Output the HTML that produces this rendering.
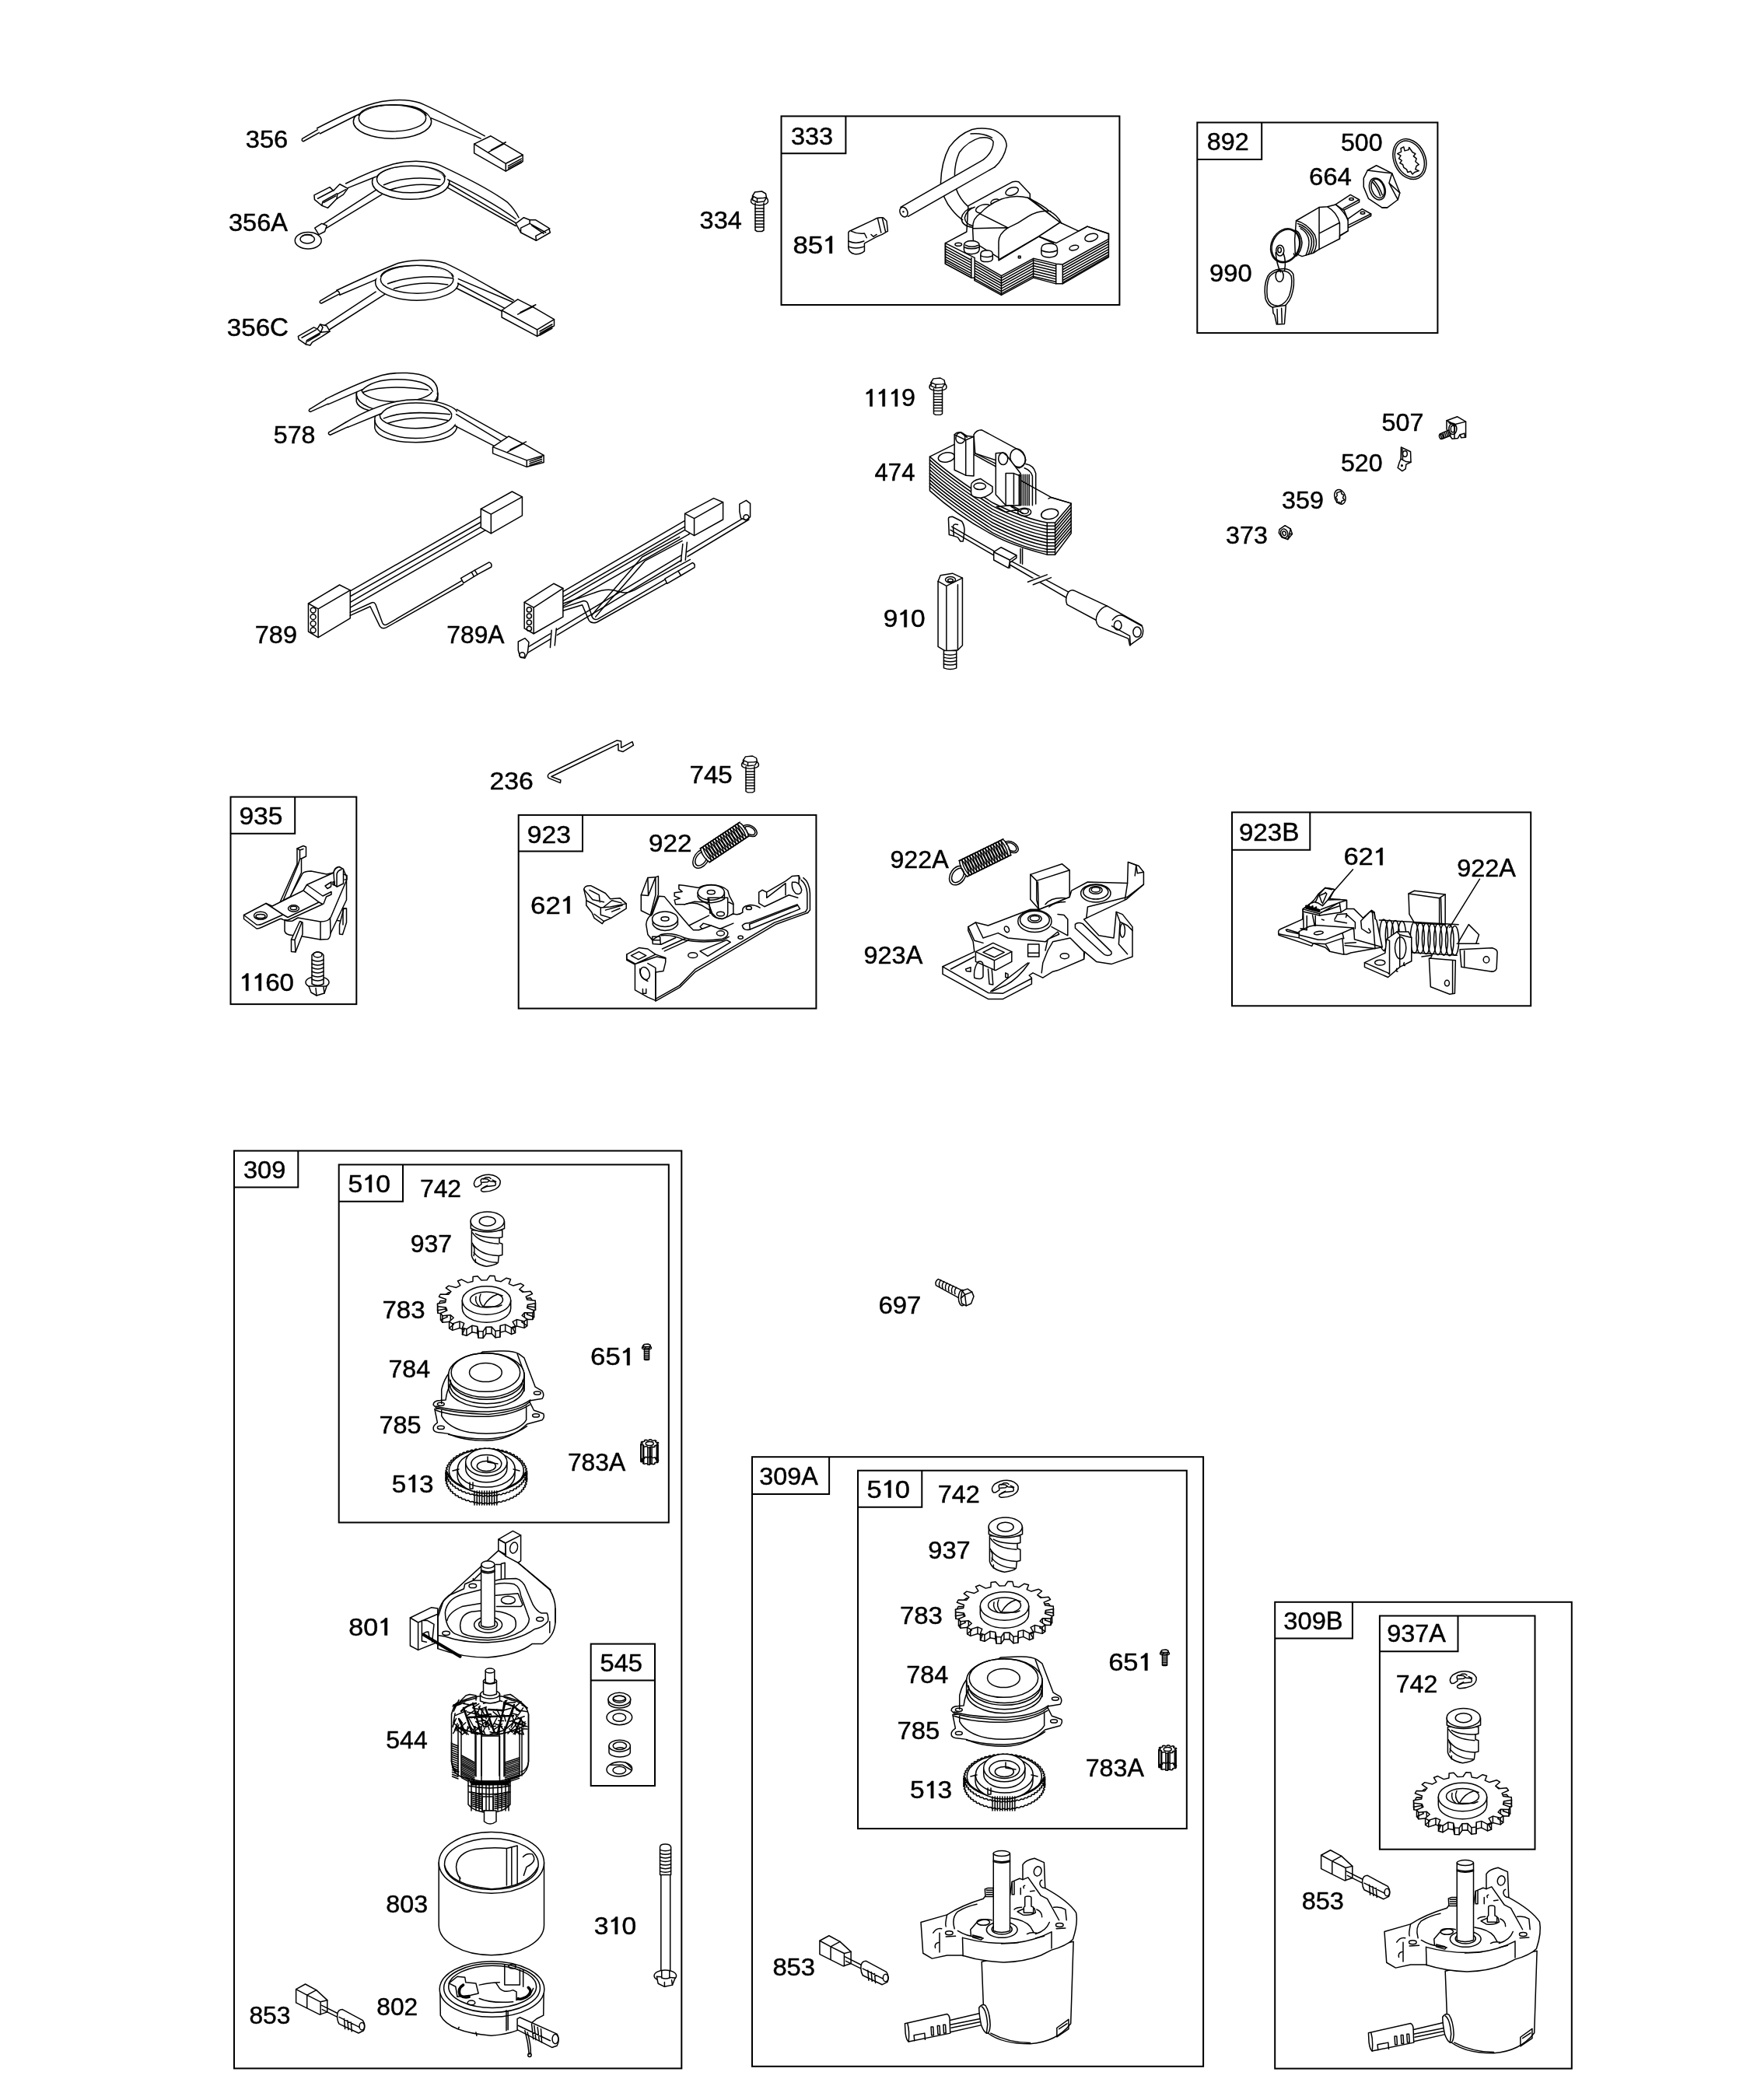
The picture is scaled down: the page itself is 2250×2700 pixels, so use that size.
<!DOCTYPE html>
<html><head><meta charset="utf-8"><title>Parts diagram</title>
<style>
html,body{margin:0;padding:0;background:#fff;}
svg{filter:grayscale(1)}
svg{display:block}
.d *{vector-effect:non-scaling-stroke}
.d{fill:none;stroke:#000;stroke-width:1.5;stroke-linejoin:round;stroke-linecap:round}
.w{fill:#fff}
.one{fill:#000;stroke:#000;stroke-width:0.45px}
.k{fill:#000}
.t{font-family:"Liberation Sans",sans-serif;font-size:31px;fill:#000;stroke:#000;stroke-width:0.45px}
</style></head><body>
<svg width="2250" height="2700" viewBox="0 0 2250 2700">
<rect x="0" y="0" width="2250" height="2700" fill="#fff"/>

<g fill="none" stroke="#000" stroke-width="2.0">
<rect x="1004.5" y="149.4" width="434.9" height="242.6"/>
<path d="M1004.5 197.3H1087.4V149.4"/>
<rect x="1539.3" y="157.5" width="309.1" height="270.6"/>
<path d="M1539.3 205.0H1622.2V157.5"/>
<rect x="296.5" y="1024.6" width="161.8" height="266.5"/>
<path d="M296.5 1071.7H379.2V1024.6"/>
<rect x="666.7" y="1047.9" width="382.7" height="248.7"/>
<path d="M666.7 1094.5H749.0V1047.9"/>
<rect x="1584.0" y="1044.4" width="384.2" height="248.9"/>
<path d="M1584.0 1092.7H1684.3V1044.4"/>
<rect x="301.0" y="1479.6" width="575.3" height="1179.8"/>
<path d="M301.0 1526.6H383.3V1479.6"/>
<rect x="435.7" y="1497.4" width="424.1" height="460.1"/>
<path d="M435.7 1544.7H518.0V1497.4"/>
<rect x="759.7" y="2113.6" width="82.3" height="182.4"/>
<path d="M759.7 2160.6H842.0"/>
<rect x="967.0" y="1873.2" width="580.1" height="783.6"/>
<path d="M967.0 1921.0H1066.1V1873.2"/>
<rect x="1103.0" y="1890.7" width="422.8" height="460.4"/>
<path d="M1103.0 1937.7H1185.3V1890.7"/>
<rect x="1639.2" y="2059.8" width="381.6" height="599.8"/>
<path d="M1639.2 2106.4H1738.9V2059.8"/>
<rect x="1773.9" y="2077.5" width="199.6" height="300.2"/>
<path d="M1773.9 2123.2H1874.5V2077.5"/>
</g>
<!-- 01_wires_a1.svg -->
<g class="d" transform="translate(280 110) scale(0.25714)">
<!-- 356 -->
<path d="M422,266 L500,220 M428,279 L510,234 M422,266 Q418,278 428,279"/>
<path d="M497,213 Q512,222 512,240"/>
<ellipse cx="873" cy="180" rx="195" ry="85"/>
<ellipse cx="873" cy="163" rx="168" ry="66"/>
<path class="w" d="M497,213 C620,150 720,100 820,80 C900,66 980,70 1030,95 C1130,140 1240,200 1335,252 L1315,265 C1200,210 1120,170 1065,160 L1040,125 C980,98 900,93 820,100 C760,110 720,125 712,140 L512,240 Z" stroke="none"/>
<path d="M497,213 C620,150 720,100 820,80 C900,66 980,70 1030,95 C1130,140 1240,200 1335,252"/>
<path d="M512,240 L712,140"/>
<path d="M1065,162 L1315,265"/>
<path d="M705,150 C720,110 800,95 873,96 C960,96 1030,110 1042,150"/>
<path class="w" d="M1282,292 L1365,252 L1525,347 L1525,380 L1440,428 L1282,338 Z"/>
<path d="M1282,292 L1440,390 L1525,347 M1440,390 L1440,428 M1355,332 L1430,292 M1367,322 L1440,283 M1452,402 L1518,366 M1452,412 L1518,376 M1452,420 L1518,385"/>
<!-- 356A -->
<ellipse cx="965" cy="482" rx="193" ry="87"/>
<ellipse cx="965" cy="468" rx="170" ry="68"/>
<path d="M830,497 C900,466 1000,455 1112,470 M860,522 C940,496 1030,488 1110,502"/>
<path class="w" d="M640,490 C720,450 800,415 880,392 C960,372 1060,375 1110,398 C1200,440 1350,510 1450,585 C1480,615 1495,640 1505,660 L1490,668 C1420,610 1300,545 1150,470 C1110,420 1050,405 965,402 C880,402 800,430 790,455 L650,512 Z" stroke="none"/>
<path d="M640,490 C720,450 800,415 880,392 C960,372 1060,375 1110,398 C1200,440 1350,510 1450,585 C1480,615 1495,640 1505,660"/>
<path d="M650,512 L790,456"/>
<path d="M795,455 C820,420 890,402 965,402 C1050,402 1120,420 1138,455"/>
<path d="M1150,470 C1300,545 1400,600 1490,668"/>
<path d="M1155,490 L1495,690 M1148,510 L1490,702"/>
<path d="M512,702 L792,522 M528,722 L820,545"/>
<path class="w" d="M482,548 L560,508 L578,526 L610,493 L650,515 L628,545 L595,566 L550,612 L520,600 L484,570 Z"/>
<path d="M520,600 L525,580 L596,540 M500,565 L580,523 M530,585 L590,552 M595,566 L598,543 L640,520"/>
<ellipse class="w" cx="452" cy="775" rx="66" ry="42"/>
<ellipse cx="448" cy="768" rx="36" ry="21"/>
<path d="M422,752 Q440,740 470,748"/>
<path class="w" d="M485,712 L520,690 L545,700 L535,730 L505,745 Z"/>
<path class="w" d="M1490,690 L1530,660 L1560,672 L1590,672 L1655,712 L1662,735 L1592,775 L1515,735 Z"/>
<path d="M1515,735 L1515,712 L1560,690 M1560,672 L1560,690 L1640,735 M1570,700 L1630,740 M1592,775 L1590,752 L1660,715"/>
</g>

<!-- 02_wires_a2.svg -->
<g class="d" transform="translate(280 300) scale(0.25714)">
<!-- 356C -->
<ellipse cx="996" cy="245" rx="208" ry="90"/>
<ellipse cx="996" cy="230" rx="182" ry="70"/>
<path d="M850,252 C920,225 1050,205 1172,225 M880,277 C960,250 1050,240 1150,257"/>
<path class="w" stroke="none" d="M595,285 C700,235 800,190 900,150 C960,132 1060,125 1140,150 C1250,200 1380,280 1480,335 L1440,375 C1350,330 1280,290 1205,250 L1180,215 C1120,170 1050,160 996,160 C900,160 830,180 815,215 L610,308 Z"/>
<path d="M595,285 C700,235 800,190 900,150 C960,132 1060,125 1140,150 C1250,200 1380,280 1480,335"/>
<path d="M610,308 L790,232"/>
<path d="M815,215 C830,180 900,160 996,160 C1080,160 1160,175 1178,215"/>
<path d="M1203,228 L1478,345 M1200,250 L1440,378 M1195,275 L1422,390"/>
<path d="M512,338 L595,288 M518,350 L605,305 M512,338 Q506,348 518,350 M595,285 Q610,292 610,308"/>
<path d="M520,470 L790,292 M545,490 L835,305"/>
<path class="w" d="M402,515 L480,470 L498,478 L512,455 L545,463 L560,490 L522,515 L472,545 L462,560 L440,555 L405,530 Z"/>
<path d="M440,555 L445,535 L520,493 M420,522 L492,482 M450,540 L510,505 M498,478 L515,495 L560,490 M512,455 L525,470 L515,495"/>
<path class="w" d="M1420,385 L1500,330 L1582,372 L1682,430 L1682,462 L1597,515 L1420,420 Z"/>
<path d="M1420,385 L1597,482 L1682,430 M1597,482 L1597,515 M1500,405 L1580,365 M1512,395 L1590,357 M1610,490 L1672,455 M1610,500 L1672,465 M1610,510 L1672,475"/>
<!-- 578 -->
<ellipse cx="897" cy="805" rx="203" ry="90"/>
<ellipse cx="897" cy="780" rx="178" ry="62"/>
<path d="M693,800 L693,840 C700,880 780,900 897,900 C1000,900 1080,875 1100,830 L1100,800"/>
<path d="M725,795 C790,770 900,760 1070,785"/>
<path class="w" stroke="none" d="M540,828 C620,790 720,740 820,710 C900,690 1000,695 1050,720 C1090,740 1103,770 1095,800 L1060,790 C1040,760 980,730 897,730 C820,732 770,745 720,780 L552,855 Z"/>
<path d="M540,828 C620,790 720,740 820,710 C900,690 1000,695 1050,720 C1090,740 1103,770 1098,805"/>
<path d="M552,855 L720,782"/>
<path d="M720,785 C760,745 830,730 897,730 C990,730 1060,750 1075,790"/>
<path d="M458,880 L540,830 M464,892 L552,852 M458,880 Q452,890 464,892"/>
<ellipse class="w" cx="990" cy="930" rx="205" ry="95"/>
<ellipse cx="990" cy="910" rx="180" ry="65"/>
<path d="M785,935 L785,975 C795,1020 880,1045 990,1045 C1100,1045 1180,1020 1195,975 L1195,935"/>
<path d="M830,925 C900,895 1000,890 1160,905 M850,950 C940,920 1050,915 1150,935"/>
<path class="w" stroke="none" d="M640,945 C700,910 800,860 900,840 C980,825 1080,830 1150,860 L1195,880 L1450,1020 L1380,1062 L1190,960 L1170,905 C1100,865 1040,848 990,848 C900,848 840,870 815,900 L650,970 Z"/>
<path d="M640,945 C700,910 800,860 900,840 C980,825 1080,830 1150,860 C1175,870 1190,880 1195,890"/>
<path d="M650,970 L815,902"/>
<path d="M815,905 C840,870 900,848 990,848 C1080,848 1155,865 1170,905"/>
<path d="M1195,880 L1450,1022 M1192,905 L1420,1042 M1185,962 L1380,1062"/>
<path d="M555,995 L640,945 M562,1008 L650,968 M555,995 Q550,1005 562,1008"/>
<path class="w" d="M1375,1068 L1455,1015 L1540,1058 L1630,1110 L1630,1145 L1545,1168 L1375,1100 Z"/>
<path d="M1375,1068 L1545,1135 L1630,1110 M1545,1135 L1545,1168 M1450,1092 L1530,1050 M1462,1082 L1542,1042 M1560,1140 L1620,1120 M1560,1150 L1620,1130 M1560,1160 L1620,1140"/>
</g>

<!-- 03_wires_789.svg -->
<g class="d" transform="translate(380 620) scale(0.34286)">
<!-- 789 -->
<path d="M205,408 L712,118 M205,428 L712,140 M205,450 L712,158 M205,470 L712,180"/>
<path d="M712,118 Q722,128 712,140 M712,158 Q722,168 712,180"/>
<path class="w" d="M695,100 L812,35 L850,55 L850,125 L733,192 L695,170 Z"/>
<path d="M695,100 L733,120 L850,55 M733,120 L733,192"/>
<path class="w" d="M48,455 L165,385 L205,405 L205,510 L85,582 L48,560 Z"/>
<path d="M48,455 L85,475 L205,405 M85,475 L85,582"/>
<circle cx="66" cy="480" r="10"/><circle cx="66" cy="505" r="10"/><circle cx="66" cy="530" r="10"/><circle cx="66" cy="555" r="10"/>
<path d="M205,488 L285,452 Q295,448 300,458 L326,528 Q332,540 345,532 L622,370 M205,500 L280,466 L316,540 Q324,552 340,545 L628,382"/>
<path class="w" d="M620,360 L672,330 L682,346 L630,378 Z"/>
<path d="M672,330 L726,300 Q738,304 734,318 L682,346 M660,337 L668,352"/>
<!-- 789A -->
<path d="M1003,410 L1475,135 M1003,430 L1475,158 M1003,445 L1475,170 M1003,465 L1475,195"/>
<path d="M1475,135 Q1485,145 1475,158 M1475,170 Q1485,182 1475,195"/>
<path d="M1003,470 L1080,445 Q1092,445 1096,455 L1112,505 Q1120,520 1135,512 L1385,365 M1003,482 L1075,460 L1100,518 Q1110,532 1130,525 L1392,378"/>
<path d="M1110,500 Q1160,440 1200,395 L1300,280 L1440,205 M1125,505 Q1170,450 1210,410 L1310,295 L1450,220"/>
<path d="M1003,455 L1120,415 Q1170,395 1210,410 Q1240,420 1270,405 L1480,290"/>
<path d="M860,625 L1695,125 M870,640 L1700,140"/>
<path class="w" d="M1385,362 L1435,333 L1445,350 L1393,380 Z"/>
<path d="M1435,333 L1488,302 Q1500,306 1496,320 L1445,350"/>
<path class="w" d="M858,450 L968,380 L1003,398 L1003,505 L893,568 L858,548 Z"/>
<path d="M858,450 L893,470 L1003,398 M893,470 L893,568"/>
<circle cx="876" cy="478" r="9"/><circle cx="876" cy="502" r="9"/><circle cx="876" cy="526" r="9"/><circle cx="876" cy="549" r="9"/>
<path class="w" d="M1460,118 L1568,60 L1603,75 L1603,140 L1495,200 L1460,180 Z"/>
<path d="M1460,118 L1495,136 L1603,75 M1495,136 L1495,200"/>
<path class="w" d="M835,598 L860,585 L875,600 L870,640 L860,660 L842,655 L835,630 Z"/>
<circle cx="850" cy="648" r="10"/>
<path class="w" d="M1665,82 L1690,68 L1705,80 L1705,130 L1690,142 L1670,135 L1665,110 Z"/>
<circle cx="1690" cy="132" r="10"/>
<path class="w" stroke="none" d="M955,560 L975,548 L985,612 L965,620 Z M1440,235 L1462,225 L1470,292 L1450,300 Z"/>
<path d="M960,555 L955,620 M978,548 L972,612 M1452,232 L1445,298 M1468,225 L1462,292"/>
</g>

<!-- 04_coil333.svg -->
<g class="d" transform="translate(1140 160) scale(0.171429)">
<!-- lead loop -->
<path d="M810,320 Q880,260 900,160 Q895,80 800,40 Q720,20 640,38 Q540,75 470,170 Q410,280 405,440 Q420,560 490,640 Q530,690 570,715"/>
<path d="M725,265 Q800,205 800,130 Q780,90 700,100 Q610,125 545,210 Q510,290 510,380 M520,480 Q545,560 620,625"/>
<path d="M630,70 Q720,60 790,100"/>
<path class="w" d="M105,620 L725,265 L810,320 L160,690 Z" stroke="none"/>
<path d="M105,620 L725,265 M160,690 L810,320"/>
<ellipse cx="128" cy="657" rx="28" ry="38" transform="rotate(-25 128 657)" class="w"/>
<circle cx="125" cy="655" r="3"/>
<!-- lamination back plate -->
<path class="w" d="M612,610 L940,432 Q965,425 990,430 L1075,520 L1075,555 L1300,735 L1440,800 L1505,765 L1665,820 L1665,995 L1320,1195 L1270,1195 L1100,1150 L860,1280 L660,1170 L660,1150 L635,1150 L440,1045 L440,890 L600,805 L612,610 Z"/>
<ellipse cx="940" cy="502" rx="50" ry="28" transform="rotate(-20 940 502)"/>
<ellipse cx="812" cy="580" rx="32" ry="18" transform="rotate(-20 812 580)"/>
<ellipse cx="725" cy="632" rx="58" ry="30" transform="rotate(-15 725 632)"/>
<!-- base front faces -->
<path d="M440,890 L660,1000 L660,1170 M440,890 L440,1045 L635,1150 L635,1000 M660,1020 L860,1135 L860,1280 M860,1135 L1100,1005 L1100,1150 M1100,1005 L1270,1045 L1270,1195 M1270,1045 L1320,1050 L1665,860 M1320,1050 L1320,1195"/>
<path d="M1270,890 L1505,765 L1665,820 L1665,860 M840,1020 L1140,840 L1270,890"/>
<path d="M445,915 L630,1015 M445,935 L630,1035 M445,955 L630,1055 M445,975 L630,1075 M445,995 L630,1095 M445,1015 L630,1115 M445,1030 L630,1132"/>
<path d="M665,1040 L858,1150 M665,1060 L858,1170 M665,1080 L858,1190 M665,1100 L858,1210 M665,1120 L858,1230 M665,1140 L858,1250 M665,1160 L858,1268"/>
<path d="M862,1150 L1098,1020 M862,1170 L1098,1040 M862,1190 L1098,1060 M862,1210 L1098,1080 M862,1230 L1098,1100 M862,1250 L1098,1120 M862,1268 L1098,1138"/>
<path d="M1102,1020 L1268,1060 M1102,1040 L1268,1080 M1102,1060 L1268,1100 M1102,1080 L1268,1120 M1102,1100 L1268,1140 M1102,1120 L1268,1160 M1102,1140 L1268,1180"/>
<path d="M1322,1068 L1662,878 M1322,1088 L1662,898 M1322,1108 L1662,918 M1322,1128 L1662,938 M1322,1148 L1662,958 M1322,1168 L1662,978 M1322,1185 L1662,990"/>
<ellipse cx="1535" cy="848" rx="50" ry="28" transform="rotate(-15 1535 848)"/>
<ellipse cx="1405" cy="925" rx="35" ry="18" transform="rotate(-15 1405 925)"/>
<ellipse cx="538" cy="900" rx="25" ry="12"/>
<rect x="988" y="988" width="16" height="14"/>
<!-- bobbin -->
<path class="w" d="M645,780 Q645,700 700,670 Q760,600 860,560 Q960,525 1060,550 L1300,735 L1140,840 L840,1015 L840,880 Q840,820 910,775 Z"/>
<path d="M700,670 L910,775 M1060,550 Q1180,610 1220,650 Q1280,680 1310,740 M910,775 Q990,740 1060,690 Q1140,640 1230,650"/>
<path d="M645,780 L650,880 L840,1000 M1140,840 L1250,890"/>
<path d="M640,625 Q575,640 560,705 Q565,760 640,772 M660,620 Q600,640 585,700 Q590,750 645,760"/>
<path class="w" d="M580,905 Q580,875 635,872 Q695,875 695,905 L695,940 Q690,970 635,972 Q580,970 580,940 Z"/>
<path d="M580,920 Q635,945 695,920 M590,905 Q635,930 690,905"/>
<path class="w" d="M705,972 Q705,945 750,943 Q795,945 795,972 L795,1010 Q790,1030 750,1030 Q705,1030 705,1010 Z"/>
<path d="M705,985 Q750,1005 795,985"/>
<path class="w" d="M1160,930 Q1160,895 1220,893 Q1280,895 1280,930 L1280,965 Q1275,995 1220,997 Q1160,995 1160,965 Z"/>
<path d="M1160,945 Q1220,970 1280,945"/>
</g>
<g class="d" transform="translate(980 130) scale(0.285714)">
<!-- 851 boot -->
<path class="w" d="M388,600 Q385,585 400,582 L500,535 Q520,520 545,525 L560,540 L565,585 L540,600 L515,610 L460,640 L460,675 Q440,692 415,688 Q390,682 388,660 Z"/>
<path d="M388,630 Q420,645 458,630 M388,655 Q420,668 458,655 M520,530 L535,592 M540,525 L555,588 M400,585 Q430,600 460,595 L470,615 M490,600 L500,610 L515,600"/>
</g>

<!-- 05_bolts.svg -->
<defs>
<g id="bolt">
<path class="w" d="M-9,6 L-6,1 L3,0 L8,3 L9,8 L6,13 L-3,14 L-9,11 Z"/>
<path d="M-9,6 L-3,9 L5,8.5 L9,8 M-3,9 L-3,14"/>
<path class="w" d="M-5.5,15 L-5.5,50 L-3,51.5 L3,51.5 L5.5,50 L5.5,15"/>
<path d="M-11,13 Q-11,17 0,18 Q11,17 11,13 Q11,9 8,8 M-11,13 Q-11,9 -8,8"/>
<path d="M-5.5,22 L5.5,22 M-5.5,26 L5.5,26 M-5.5,30 L5.5,30 M-5.5,34 L5.5,34 M-5.5,38 L5.5,38 M-5.5,42 L5.5,42 M-5.5,46 L5.5,46"/>
</g>
</defs>
<g class="d">
<use href="#bolt" transform="translate(976.5 246)"/>
<use href="#bolt" transform="translate(1206 486) scale(1 0.92)"/>
<use href="#bolt" transform="translate(964.5 972) scale(1 0.91)"/>
</g>

<!-- 06_key892.svg -->
<g class="d" transform="translate(1620 170) scale(0.125714)">
<!-- 500 lock washer -->
<ellipse cx="1530" cy="275" rx="160" ry="215" transform="rotate(-25 1530 275)"/>
<ellipse cx="1530" cy="275" rx="140" ry="195" transform="rotate(-25 1530 275)"/>
<path d="M1440,165 L1470,150 L1480,190 L1520,180 L1525,155 L1560,205 L1590,220 L1570,245 L1600,270 L1590,300 L1625,330 L1600,345 L1590,380 L1625,395 L1580,410 L1560,430 L1540,400 L1510,410 L1500,380 L1470,360 L1460,330 L1430,315 L1450,290 L1420,270 L1440,240 L1405,220 L1445,200 Z"/>
<!-- 664 nut -->
<path class="w" d="M1060,470 L1100,390 L1190,340 L1350,420 L1430,620 L1410,690 L1300,772 L1250,772 L1110,680 L1060,560 Z"/>
<path d="M1100,390 L1350,420 M1350,420 L1320,520 L1430,620 M1320,520 L1410,690 M1250,772 L1300,772"/>
<ellipse cx="1200" cy="580" rx="78" ry="115" transform="rotate(-20 1200 580)"/>
<ellipse cx="1205" cy="575" rx="62" ry="100" transform="rotate(-20 1205 575)"/>
<path d="M1150,510 Q1200,560 1230,650 M1165,495 Q1215,545 1250,640"/>
<!-- terminals -->
<path class="w" d="M770,740 L925,640 L1015,690 L1015,715 L850,800 Z"/>
<ellipse cx="935" cy="685" rx="22" ry="12"/>
<path d="M850,780 L1015,690"/>
<path class="w" d="M880,900 L1045,785 L1135,835 L1135,855 L905,975 Z"/>
<ellipse cx="1050" cy="825" rx="22" ry="12"/>
<path d="M905,950 L1135,835"/>
<!-- body -->
<path class="w" d="M370,905 L605,768 L690,762 L775,740 L860,800 L900,900 L900,1010 L815,1060 L815,1090 L600,1200 L545,1235 L430,1270 L360,1240 L355,1100 Z"/>
<path d="M605,768 L605,1200 M690,762 Q790,820 815,930 L815,1090 M775,740 Q870,820 900,900 M605,1035 L815,925 M815,1060 L900,1010"/>
<path d="M370,905 Q480,930 560,1050 Q600,1150 545,1235 M385,935 Q480,960 540,1060 Q570,1150 520,1240 M400,960 Q480,990 520,1070 Q545,1150 495,1250 M415,985 Q470,1010 495,1080 Q515,1150 470,1258"/>
<path d="M360,1000 Q420,1030 430,1130 Q425,1210 375,1265 Q350,1270 345,1240"/>
<!-- key ring -->
<ellipse cx="260" cy="1160" rx="145" ry="180" transform="rotate(25 260 1160)"/>
<ellipse cx="262" cy="1160" rx="135" ry="170" transform="rotate(25 262 1160)"/>
<ellipse cx="205" cy="1210" rx="40" ry="55"/>
<ellipse cx="200" cy="1205" rx="18" ry="25"/>
<!-- key -->
<path class="w" d="M200,1400 Q300,1380 340,1450 Q360,1560 320,1680 Q280,1780 200,1800 Q90,1810 55,1700 Q35,1560 80,1470 Q120,1410 200,1400 Z"/>
<path d="M205,1420 Q290,1410 320,1470 Q335,1560 300,1670 Q260,1760 190,1775 Q100,1780 75,1690 Q60,1570 95,1480 Q140,1425 205,1420 Z"/>
<path class="w" d="M130,1790 L265,1770 L250,1960 L170,1965 L160,1920 L150,1870 L135,1850 Z"/>
<path d="M175,1810 L180,1955 M220,1800 L225,1950"/>
<ellipse cx="200" cy="1470" rx="40" ry="60"/>
<path d="M160,1230 Q170,1350 210,1430 M240,1240 Q270,1320 250,1420"/>
</g>

<!-- 07_small.svg -->
<g class="d" transform="translate(1640 530) scale(0.142857)">
<!-- 507 -->
<path class="w" d="M1540,75 L1635,40 L1712,85 L1712,225 L1670,230 L1660,200 L1640,235 L1590,240 L1560,200 L1540,150 Z"/>
<path d="M1540,75 L1610,110 L1712,85 M1610,110 L1610,235 M1560,95 L1625,125 M1670,200 L1700,190 L1705,225"/>
<ellipse cx="1595" cy="150" rx="35" ry="50"/>
<ellipse cx="1595" cy="150" rx="18" ry="30"/>
<path class="w" d="M1480,195 L1560,160 L1575,210 L1500,240 Z"/>
<path d="M1505,185 L1520,230 M1520,178 L1535,225 M1535,172 L1550,218 M1550,166 L1563,212"/>
<ellipse cx="1490" cy="218" rx="16" ry="24" transform="rotate(-20 1490 218)"/>
<!-- 520 -->
<path class="w" d="M1130,315 L1215,355 L1218,450 L1175,470 L1170,510 L1140,530 L1100,500 L1115,450 L1128,420 Z"/>
<path d="M1128,420 L1175,445 L1218,450 M1140,330 L1145,420"/>
<ellipse cx="1165" cy="375" rx="20" ry="26"/>
<circle cx="1137" cy="480" r="6"/>
<!-- 359 -->
<ellipse cx="580" cy="762" rx="48" ry="68" transform="rotate(-20 580 762)"/>
<path d="M565,720 L590,712 L595,735 L615,745 L605,770 L620,790 L595,800 L590,820 L570,808 L550,812 L555,785 L540,770 L555,750 L550,728 Z"/>
<!-- 373 -->
<path class="w" d="M35,1055 L85,1020 L135,1050 L150,1095 L110,1145 L55,1125 L30,1085 Z"/>
<path d="M135,1050 L125,1095 L150,1095 M125,1095 L110,1145"/>
<ellipse cx="78" cy="1090" rx="32" ry="40" transform="rotate(-20 78 1090)"/>
<ellipse cx="78" cy="1090" rx="15" ry="20" transform="rotate(-20 78 1090)"/>
</g>

<!-- 08_coil474.svg -->
<g class="d" transform="translate(1180 540) scale(0.171429)">
<!-- bracket under -->
<path class="w" d="M230,740 Q230,725 260,725 L330,760 Q350,790 350,830 L340,910 L320,910 L300,880 L270,870 L235,860 Z"/>
<path d="M270,870 L265,800 Q265,775 300,785"/>
<!-- lead -->
<path d="M255,800 L700,1058 M245,825 L690,1085 M700,1058 L1130,1290 M690,1085 L1110,1330"/>
<path class="w" d="M570,990 L625,955 L740,1015 L740,1035 L690,1070 L680,1110 L570,1050 Z"/>
<path d="M570,990 L690,1050 L740,1015 M690,1050 L690,1110 M770,965 L770,1075 M785,965 L785,1080"/>
<path class="w" stroke="none" d="M840,1195 L965,1160 L1000,1185 L870,1235 Z"/>
<path d="M825,1215 L970,1160 M865,1235 L1000,1182"/>
<!-- sleeve -->
<path class="w" d="M1130,1290 Q1150,1270 1175,1280 L1420,1395 L1345,1505 L1120,1385 Q1100,1340 1130,1290 Z"/>
<path class="w" d="M1350,1450 Q1380,1400 1420,1395 L1680,1540 Q1700,1580 1680,1625 L1590,1690 L1580,1640 L1360,1550 Q1320,1510 1350,1450 Z"/>
<path d="M1460,1500 Q1500,1450 1545,1470 L1680,1545 M1455,1545 L1590,1620 L1595,1690"/>
<ellipse cx="1500" cy="1540" rx="28" ry="35"/>
<ellipse cx="1645" cy="1590" rx="30" ry="38"/>
<!-- lamination body -->
<path class="w" d="M90,275 L280,180 L1000,580 L1150,625 L1150,850 L1030,1010 L970,1010 Q700,940 560,860 Q300,720 90,530 Z"/>
<path d="M90,275 Q250,420 560,620 Q800,740 970,770 L1030,770 L1150,630 M970,770 L970,1010 M1030,770 L1030,1010"/>
<path d="M90,300 Q250,445 560,645 Q800,765 970,795 M90,325 Q250,470 560,670 Q800,790 970,820 M90,350 Q250,495 560,695 Q800,815 970,845 M90,375 Q250,520 560,720 Q800,840 970,870 M90,400 Q250,545 560,745 Q800,865 970,895 M90,425 Q250,570 560,770 Q800,890 970,920 M90,450 Q250,595 560,795 Q800,915 970,945 M90,475 Q250,620 560,820 Q800,940 970,970 M90,500 Q250,645 560,845 Q800,965 970,990"/>
<path d="M1030,795 L1150,655 M1030,820 L1150,680 M1030,845 L1150,705 M1030,870 L1150,730 M1030,895 L1150,755 M1030,920 L1150,780 M1030,945 L1150,805 M1030,970 L1150,830 M970,795 L1030,795 M970,820 L1030,820 M970,845 L1030,845 M970,870 L1030,870 M970,895 L1030,895 M970,920 L1030,920 M970,945 L1030,945 M970,970 L1030,970 M970,990 L1030,990"/>
<ellipse cx="215" cy="280" rx="62" ry="35" transform="rotate(-10 215 280)"/>
<ellipse cx="990" cy="705" rx="65" ry="38" transform="rotate(-10 990 705)"/>
<path class="w" d="M400,490 Q400,455 470,440 L560,500 L560,540 Q520,580 470,585 Q400,580 400,550 Z"/>
<ellipse cx="465" cy="497" rx="45" ry="25"/>
<path d="M980,590 L1000,580 L1150,625"/>
<!-- bobbin -->
<path class="w" d="M420,110 Q440,75 480,75 L740,215 Q800,240 810,300 Q800,350 760,360 L430,250 Z"/>
<ellipse cx="750" cy="285" rx="55" ry="70" transform="rotate(-20 750 285)"/>
<path d="M430,250 L590,330 M810,330 Q870,340 885,400 L885,630 M800,360 Q850,380 860,420 L860,640"/>
<path class="w" d="M275,110 Q290,90 325,92 L370,120 L420,125 L420,420 L360,415 L275,375 Z"/>
<path d="M360,150 L360,415 M275,110 L360,150 L420,125 M330,100 L370,130"/>
<ellipse cx="320" cy="135" rx="35" ry="40"/>
<path class="w" d="M585,250 L640,245 L670,270 L770,400 L770,640 L660,640 L585,560 Z"/>
<path d="M660,400 L660,640 M660,400 L720,400 L770,420 M720,400 L720,630 M760,410 L760,640 M775,410 L775,640 M790,410 L790,640 M805,410 L805,640 M820,410 L820,640 M835,410 L835,640"/>
<ellipse cx="640" cy="290" rx="35" ry="45"/>
<path d="M590,650 L700,640 L760,670 L660,690 Z M700,650 Q750,680 790,700"/>
<ellipse cx="800" cy="690" rx="50" ry="30"/>
<ellipse cx="800" cy="685" rx="30" ry="18"/>
<!-- 910 standoff -->
<path class="w" d="M152,1210 L170,1165 L260,1150 L335,1185 L335,1690 L300,1725 L210,1735 L152,1700 Z"/>
<path d="M152,1210 L215,1245 L335,1185 M215,1245 L215,1735 M300,1235 L300,1725"/>
<ellipse cx="245" cy="1198" rx="38" ry="22"/>
<ellipse cx="245" cy="1203" rx="20" ry="11"/>
<path class="w" d="M195,1730 L290,1730 L290,1860 Q245,1880 195,1860 Z"/>
<path d="M195,1755 Q245,1770 290,1755 M195,1780 Q245,1795 290,1780 M195,1805 Q245,1820 290,1805 M195,1830 Q245,1845 290,1830"/>
</g>

<!-- 09_935.svg -->
<g class="d" transform="translate(300 1080) scale(0.1)">
<!-- legs behind -->
<path class="w" d="M1365,1090 L1420,880 L1455,885 L1455,1060 L1405,1215 L1365,1210 Z"/>
<path d="M1310,870 L1455,880 M1310,870 L1310,1030 L1370,1040 M1410,890 L1410,1090"/>
<!-- body -->
<path class="w" d="M660,1030 L660,1170 Q670,1220 760,1225 L890,1240 L1120,1280 L1215,1275 Q1245,1260 1250,1200 L1455,770 L1455,470 L1415,380 L1360,345 Q1300,350 1290,420 L1200,440 L1000,400 Q920,400 890,430 L730,730 Z"/>
<path d="M1120,1050 L1120,1280 M660,1030 Q700,1050 760,1040 L830,1000 L1120,1050 Q1220,1050 1245,1000 L1250,1200 M1250,1000 L1450,530"/>
<path d="M945,575 L1280,425 M945,575 L1150,720 L1260,665 L1260,700 L1195,730 L1160,820 M945,575 L900,650 L1100,800"/>
<path d="M1180,590 L1260,540 L1255,600 L1210,625 Z"/>
<path class="w" d="M1290,420 Q1300,360 1360,345 L1415,375 L1415,560 L1335,600 L1300,580 Z"/>
<path d="M1330,440 Q1340,390 1390,380 M1330,440 L1330,600 M1280,540 L1300,535 L1300,580 L1280,575 Z M1415,440 L1460,455 L1460,510 L1430,510"/>
<!-- upper arm -->
<path class="w" d="M600,800 L820,310 L820,110 L900,75 L935,90 L935,210 L875,240 L875,420 L730,730 Z"/>
<path d="M820,110 L855,130 L900,115 M855,130 L855,240 L835,310 L640,780 M855,240 L875,240 M835,310 L820,310"/>
<!-- tab plate -->
<path class="w" d="M135,965 L420,815 L500,850 L900,650 L1100,800 L1150,825 L700,1030 L640,1025 Q620,1010 600,1015 L370,1120 Q330,1140 300,1140 L135,1015 Z"/>
<path d="M135,965 L300,1090 Q330,1095 370,1080 L640,960 L700,995 L1100,800 M420,815 L640,960"/>
<ellipse cx="350" cy="972" rx="85" ry="50"/>
<ellipse cx="350" cy="980" rx="60" ry="25"/>
<ellipse cx="775" cy="880" rx="70" ry="42"/>
<ellipse cx="775" cy="875" rx="42" ry="22"/>
<!-- front leg -->
<path class="w" d="M745,1280 L855,1045 L890,1060 L890,1210 L800,1440 L745,1435 Z"/>
<path d="M745,1280 L790,1285 L880,1060 M790,1285 L800,1440"/>
<!-- 1160 bolt -->
<ellipse class="w" cx="1080" cy="1830" rx="150" ry="75"/>
<path class="w" d="M970,1880 L1000,1960 L1070,2000 L1170,1970 L1200,1880 Z"/>
<path d="M1060,1905 L1070,2000 M1160,1890 L1170,1970"/>
<path class="w" d="M1010,1480 Q1040,1440 1085,1440 Q1140,1445 1160,1480 L1160,1850 Q1085,1890 1010,1850 Z"/>
<ellipse cx="1085" cy="1475" rx="55" ry="35"/>
<path d="M1010,1540 Q1085,1580 1160,1540 M1010,1590 Q1085,1630 1160,1590 M1010,1640 Q1085,1680 1160,1640 M1010,1690 Q1085,1730 1160,1690 M1010,1740 Q1085,1780 1160,1740 M1010,1790 Q1085,1830 1160,1790"/>
</g>

<!-- 10_923.svg -->
<g class="d" transform="translate(690 950) scale(0.205714)">
<!-- 236 rod -->
<path d="M80,215 L500,10 L528,15 L528,55 L598,18 L605,40 L540,80 L510,72 L510,32 L92,236 L150,258 L148,275 L75,245 Q62,230 80,215 Z"/>
<!-- 621 clip -->
<path class="w" d="M295,940 Q300,915 340,918 L430,965 L460,1000 L520,995 L560,1030 L560,1060 L465,1120 L420,1140 L410,1155 L360,1120 L345,1085 L310,1040 L310,1000 Z"/>
<path d="M295,940 L350,1005 L420,1020 M330,945 L390,975 L395,1020 M310,1010 L400,1055 L460,1050 L560,1030 M400,1055 L400,1100 L465,1120 M420,1050 L470,1010 L530,1025 M430,1070 L535,1040 M360,1095 L420,1140 M470,1080 L520,1060"/>
</g>

<!-- 10b_923br.svg -->
<g class="d" transform="translate(800 1120) scale(0.142857)">
<!-- plate fill -->
<path class="w" stroke="none" d="M300,1170 L520,1045 L660,905 L1380,480 L1670,375 L1690,350 L1690,200 Q1685,100 1630,60 L1590,40 L1530,45 L1470,90 L1300,190 L1230,190 L1230,290 L1110,320 L1040,390 L820,460 L600,480 L480,350 L380,230 L330,220 L300,55 L230,60 L170,215 L170,355 L260,400 L220,420 L210,520 L270,580 L270,680 L150,690 L40,750 L35,790 L120,835 L115,1070 L230,1135 Z"/>
<path d="M300,1170 L520,1045 L660,905 L1380,480 L1670,375 M300,1150 L515,1030 L655,885 L1370,463 L1650,365"/>
<path d="M1670,375 L1690,350 L1690,200 Q1685,100 1630,60 M1650,365 L1665,340 L1665,200 Q1660,120 1610,80"/>
<path d="M1230,190 L1260,170 L1300,190 L1470,90 L1530,45 L1590,40 L1600,70 M1230,190 L1230,290 L1280,320 L1500,215 L1580,240 M1300,190 L1300,240 L1470,110 L1470,215 M1530,100 Q1520,160 1560,200 Q1610,220 1615,170 Q1600,110 1560,100 Z M1590,40 L1590,110"/>
<path class="w" d="M1080,490 Q1100,468 1135,468 L1575,300 L1600,340 L1150,525 Q1090,540 1080,490 Z"/>
<path d="M1150,525 L1145,478 L1575,310"/>
<path d="M1085,370 Q1075,330 1110,315 L1150,305 Q1200,305 1240,330 M1085,370 Q1050,400 1000,385 L960,400 M880,520 L1000,470"/>
<ellipse cx="1140" cy="332" rx="25" ry="15"/>
<ellipse cx="1065" cy="597" rx="22" ry="14"/>
<ellipse cx="635" cy="757" rx="42" ry="24"/>
<path d="M700,720 L940,620 L975,640 L770,765 Z M380,720 L600,620 M360,700 L580,600 M350,660 L480,600"/>
<!-- governor lever right -->
<path class="w" d="M510,125 L560,130 L690,150 Q720,125 800,122 Q900,125 950,175 L965,225 L1000,290 L1000,380 L950,410 L900,430 L850,420 L810,380 L780,300 L740,280 L650,275 L560,300 L480,300 L470,260 L520,245 L470,225 L470,195 L540,185 L510,160 Z"/>
<path d="M680,195 L680,230 Q700,280 800,285 Q880,280 920,250 L920,190 M770,250 L800,380 Q830,430 900,430 Q950,420 950,380 L950,240 L770,240 M960,280 L1000,300 M780,245 L790,380 M560,300 Q640,270 720,310 L800,360"/>
<ellipse cx="800" cy="192" rx="120" ry="68"/>
<ellipse cx="800" cy="190" rx="35" ry="18"/>
<ellipse cx="885" cy="385" rx="35" ry="20"/>
<!-- throttle lever left -->
<path class="w" d="M350,570 Q450,550 560,600 Q700,640 900,610 Q960,590 950,550 Q930,520 880,520 L800,490 L730,470 L700,500 L720,520 L690,530 L640,530 L600,490 L480,350 L380,230 L330,225 L270,390 Q220,420 215,480 L230,570 L270,620 Z"/>
<path d="M350,580 Q450,570 560,620 Q700,650 900,625 L960,590 M600,490 L780,400 M720,520 L800,490"/>
<ellipse cx="885" cy="560" rx="35" ry="22"/>
<path class="w" d="M275,430 L275,480 Q300,530 385,535 Q470,530 500,480 L500,430 Z"/>
<ellipse class="w" cx="385" cy="432" rx="115" ry="68"/>
<ellipse cx="385" cy="430" rx="35" ry="18"/>
<path d="M270,590 L340,590 L345,660 L275,655 Z M275,620 L340,622"/>
<!-- upright tab -->
<path class="w" d="M170,215 L230,60 L300,55 L325,45 L325,210 L265,380 L260,400 L170,355 Z"/>
<path d="M230,60 L235,220 L170,215 M235,220 L300,55 M300,55 L300,215 L255,390"/>
<!-- bottom-left bracket -->
<path class="w" d="M40,750 L150,690 L230,700 L300,750 L390,780 L390,820 L370,900 L300,910 L300,1165 L230,1135 L115,1070 L115,840 L40,800 Z"/>
<path d="M40,750 L40,790 L120,835 L300,750 M120,835 L310,770 L390,785 M80,760 L150,725 L215,760 L145,795 Z M230,830 L300,870 L300,1165 M185,1060 L185,1100 L215,1100 L215,1060"/>
<ellipse cx="205" cy="920" rx="40" ry="58" transform="rotate(-20 205 920)"/>
<path d="M160,880 Q150,960 230,990"/>
</g>

<!-- 11_923A.svg -->
<g class="d" transform="translate(1200 1070) scale(0.16)">
<!-- 923A bracket -->
<path class="w" d="M75,1080 L330,960 L320,880 L280,790 L280,760 L340,725 L440,750 L780,620 L850,620 L1095,520 L1110,470 L1240,400 L1560,410 L1565,240 L1650,270 L1690,320 L1690,420 L1550,540 L1230,690 L1210,700 L1330,830 L1450,850 L1470,640 L1520,660 L1600,760 L1600,1000 L1430,1060 L1310,1040 L1215,960 L1210,1020 L1000,1110 L960,1120 L880,1170 L800,1130 L770,1150 L790,1170 L790,1220 L560,1340 L440,1340 L75,1140 Z"/>
<path d="M75,1080 L440,1290 L560,1295 L790,1175 M140,1100 L330,1000 M460,1280 L760,1050 M1210,1020 L1210,960 L1100,850 L960,880 L920,950 L880,1050 L870,1130"/>
<path d="M1140,740 Q1160,720 1200,735 L1430,960 Q1440,990 1400,990 Q1380,990 1370,980 L1140,770 Z"/>
<path d="M1470,640 L1500,720 L1560,750 L1600,790 M1500,720 L1490,900 L1560,980"/>
<ellipse cx="1520" cy="790" rx="20" ry="55"/>
<path d="M1230,690 L1240,600 L1560,520 L1690,420 M1560,410 L1540,540"/>
<path d="M1565,240 L1630,265 L1640,330 L1690,320 M1630,265 L1620,350"/>
<!-- upright block -->
<path class="w" d="M780,340 L1035,255 L1095,305 L1095,520 L850,620 L780,540 Z"/>
<path d="M780,340 L830,390 L1095,305 M830,390 L830,545 L850,620 M840,400 L845,620"/>
<path d="M900,580 Q950,520 1060,530 M930,600 Q980,560 1060,560"/>
<!-- washers -->
<ellipse class="w" cx="815" cy="715" rx="135" ry="88"/>
<ellipse cx="815" cy="705" rx="118" ry="72"/>
<ellipse cx="815" cy="695" rx="55" ry="32"/>
<ellipse cx="815" cy="692" rx="38" ry="20"/>
<ellipse class="w" cx="1305" cy="490" rx="120" ry="72"/>
<ellipse cx="1305" cy="480" rx="100" ry="58"/>
<ellipse cx="1305" cy="465" rx="52" ry="30"/>
<ellipse cx="1305" cy="462" rx="35" ry="20"/>
<!-- small parts -->
<ellipse cx="590" cy="780" rx="18" ry="25" transform="rotate(-25 590 780)"/>
<path d="M280,760 L330,870 L400,890 M340,725 L400,850 M400,850 L520,810 M520,810 L600,850 L900,880 L1000,800 L1010,820 L920,860 L900,950"/>
<path d="M760,900 L850,900 L850,1000 L760,1000 Z M760,970 L850,970"/>
<path d="M1000,660 L1050,665 L1080,700 L1080,830 L950,760"/>
<ellipse cx="1055" cy="995" rx="35" ry="22"/>
<!-- square cutout -->
<path class="w" d="M340,960 L480,890 L630,960 L630,1040 L500,1110 L340,1040 Z"/>
<path d="M340,960 L490,1030 L630,960 M490,1030 L490,1110 M400,965 L480,925 L570,965 L490,1005 Z"/>
<path d="M330,1170 Q320,1100 360,1040 Q400,1030 400,1070 L400,1160 Q390,1190 330,1170 Z M260,1100 L300,1085 L300,1120 L265,1115 Z M440,1100 L450,1220 L480,1225 L470,1100"/>
<path d="M580,1130 L600,1140 L600,1170 L580,1165 Z M470,1280 L580,1230 Q680,1180 770,1050"/>
</g>

<!-- 12_923B.svg -->
<g class="d" transform="translate(1630 1100) scale(0.188571)">
<!-- leader lines -->
<path d="M580,95 L400,300 M1445,160 L1240,490"/>
<!-- upright tab -->
<path class="w" d="M960,260 L1000,240 L1210,265 L1210,470 L1000,460 L965,400 Z"/>
<path d="M960,260 L1170,290 L1210,265 M1170,290 L1170,470 M1180,290 L1185,470"/>
<!-- spring coils -->
<path d="M760,440 L1300,470 M790,650 L1290,680"/>
<g>
<ellipse cx="790" cy="540" rx="28" ry="105"/><ellipse cx="830" cy="545" rx="28" ry="105"/><ellipse cx="870" cy="548" rx="28" ry="105"/>
<ellipse cx="915" cy="552" rx="28" ry="105"/><ellipse cx="1000" cy="560" rx="28" ry="105"/><ellipse cx="1040" cy="563" rx="28" ry="105"/>
<ellipse cx="1080" cy="566" rx="28" ry="105"/><ellipse cx="1120" cy="569" rx="28" ry="105"/><ellipse cx="1160" cy="572" rx="28" ry="105"/>
<ellipse cx="1200" cy="575" rx="28" ry="105"/><ellipse cx="1240" cy="578" rx="28" ry="105"/><ellipse cx="1275" cy="580" rx="28" ry="100"/>
</g>
<path d="M1290,600 L1440,600 M1300,590 L1370,470 L1440,540 L1420,600"/>
<!-- left bracket with hole -->
<path class="w" d="M660,730 L800,665 L810,570 L880,520 L960,520 L980,560 L980,720 L900,760 L820,830 L660,760 Z"/>
<path d="M810,570 L830,580 L830,810 M660,730 L820,800 L830,810 M880,520 L900,540 L980,560 M900,540 L900,760"/>
<ellipse cx="905" cy="630" rx="38" ry="75"/>
<ellipse cx="765" cy="730" rx="35" ry="18"/>
<path d="M880,770 Q870,790 885,790 M930,730 Q920,750 935,750"/>
<!-- lower tab -->
<path class="w" d="M1100,700 L1280,715 L1275,940 L1240,945 L1110,895 Z"/>
<path d="M1260,715 L1260,940 M1050,690 L1120,680 L1110,700"/>
<ellipse cx="1222" cy="870" rx="16" ry="20"/>
<!-- right plate -->
<path class="w" d="M1310,640 L1530,630 Q1565,640 1565,660 L1560,770 Q1550,795 1520,790 L1320,760 Z"/>
<path d="M1340,650 L1340,760"/>
<ellipse cx="1490" cy="710" rx="20" ry="22"/>
</g>

<!-- 12a_923Bleft.svg -->
<g class="d" transform="translate(1640 1130) scale(0.0914286)">
<path class="w" d="M40,745 Q40,720 65,708 L380,568 L385,425 L490,345 L540,300 L600,215 L700,125 L790,140 L830,150 L760,280 L900,290 L1000,300 L1000,420 L1100,420 L1230,550 L1350,440 L1390,470 L1400,560 L1420,580 L1500,960 L1060,1040 L1000,1060 L950,1060 L760,1020 L700,965 L530,905 L510,945 L45,790 Z"/>
<path d="M45,775 L330,830 L520,905 L700,915 L760,1010 M330,830 L330,740 L470,670 L560,650 L1100,690 M340,790 L600,855 L700,855 L940,760 L1100,690 M700,915 L940,835 L960,1060 M940,760 L960,840 M1100,690 L1110,850 L1500,960 M975,905 L1130,895 M975,935 L1400,980"/>
<path d="M145,715 L165,710 L330,760 L330,775 L160,735 Z"/>
<ellipse cx="605" cy="760" rx="65" ry="22" transform="rotate(-8 605 760)"/>
<path d="M1200,590 L1330,460 L1390,480 L1400,560 M1200,590 L1210,700 L1300,760 Q1340,760 1335,740 L1310,700 M1360,460 L1400,980 M1000,500 L1120,610 L1120,700 M990,540 L1000,500 M830,590 L1000,620 M830,570 L870,500 L1000,490"/>
<!-- clip 621 -->
<path class="w" d="M385,425 L490,345 L620,300 L900,290 L1000,300 L1000,420 L920,470 L620,515 L385,460 Z"/>
<path d="M385,425 L615,490 L900,330 L1000,300 M615,490 L620,515 M640,430 L890,335 M640,470 L900,380 M900,335 L920,470"/>
<path style="stroke-width:2.5" d="M430,380 L620,440 M445,400 L470,370 M495,415 L520,385 M545,430 L570,400 M430,410 L615,460"/>
<path class="w" d="M560,330 L610,220 L700,125 L790,140 L830,150 L740,290 L660,380 L600,340 Z"/>
<path d="M610,220 L650,330 M700,190 L720,210 L660,350 M700,130 L790,150 M630,230 L700,200"/>
<path d="M390,480 L395,700 L350,700 L440,720 L440,520 M520,510 L550,660 M560,520 L560,660 M650,570 L680,580"/>
</g>

<!-- 13_697.svg -->
<g class="d" transform="translate(1100 1620) scale(0.114286)">
<path class="w" d="M930,215 L1195,340 L1160,425 L905,285 Q890,240 930,215 Z"/>
<path d="M960,225 Q930,260 945,300 M995,242 Q965,277 980,317 M1030,258 Q1000,293 1015,333 M1065,275 Q1035,310 1050,350 M1100,292 Q1070,327 1085,367 M1135,308 Q1105,343 1120,383"/>
<ellipse class="w" cx="1200" cy="425" rx="42" ry="88"/>
<path class="w" d="M1200,345 L1260,325 L1310,360 L1330,410 L1300,490 L1245,515 L1195,490 L1185,430 Z"/>
<path d="M1200,345 L1230,390 L1310,360 M1230,390 L1245,515 M1230,390 L1185,430"/>
</g>

<!-- 14_springs.svg -->
<g class="d">
<ellipse cx="1231.50" cy="1125.50" rx="9.50" ry="13.50" transform="rotate(35.0 1231.50 1125.50)"/>
<ellipse cx="1231.50" cy="1125.50" rx="6.65" ry="10.12" transform="rotate(35.0 1231.50 1125.50)"/>
<ellipse cx="1300.00" cy="1089.00" rx="6.50" ry="10.00" transform="rotate(-60.0 1300.00 1089.00)"/>
<ellipse cx="1300.00" cy="1089.00" rx="4.55" ry="7.50" transform="rotate(-60.0 1300.00 1089.00)"/>
<path class="w" stroke="none" d="M1243.07,1127.32 L1300.07,1099.32 L1289.93,1078.68 L1232.93,1106.68 Z"/>
<ellipse cx="1239.68" cy="1116.18" rx="3.36" ry="11.50" transform="rotate(-26.2 1239.68 1116.18)"/>
<ellipse cx="1243.03" cy="1114.53" rx="3.36" ry="11.50" transform="rotate(-26.2 1243.03 1114.53)"/>
<ellipse cx="1246.38" cy="1112.88" rx="3.36" ry="11.50" transform="rotate(-26.2 1246.38 1112.88)"/>
<ellipse cx="1249.74" cy="1111.24" rx="3.36" ry="11.50" transform="rotate(-26.2 1249.74 1111.24)"/>
<ellipse cx="1253.09" cy="1109.59" rx="3.36" ry="11.50" transform="rotate(-26.2 1253.09 1109.59)"/>
<ellipse cx="1256.44" cy="1107.94" rx="3.36" ry="11.50" transform="rotate(-26.2 1256.44 1107.94)"/>
<ellipse cx="1259.79" cy="1106.29" rx="3.36" ry="11.50" transform="rotate(-26.2 1259.79 1106.29)"/>
<ellipse cx="1263.15" cy="1104.65" rx="3.36" ry="11.50" transform="rotate(-26.2 1263.15 1104.65)"/>
<ellipse cx="1266.50" cy="1103.00" rx="3.36" ry="11.50" transform="rotate(-26.2 1266.50 1103.00)"/>
<ellipse cx="1269.85" cy="1101.35" rx="3.36" ry="11.50" transform="rotate(-26.2 1269.85 1101.35)"/>
<ellipse cx="1273.21" cy="1099.71" rx="3.36" ry="11.50" transform="rotate(-26.2 1273.21 1099.71)"/>
<ellipse cx="1276.56" cy="1098.06" rx="3.36" ry="11.50" transform="rotate(-26.2 1276.56 1098.06)"/>
<ellipse cx="1279.91" cy="1096.41" rx="3.36" ry="11.50" transform="rotate(-26.2 1279.91 1096.41)"/>
<ellipse cx="1283.26" cy="1094.76" rx="3.36" ry="11.50" transform="rotate(-26.2 1283.26 1094.76)"/>
<ellipse cx="1286.62" cy="1093.12" rx="3.36" ry="11.50" transform="rotate(-26.2 1286.62 1093.12)"/>
<ellipse cx="1289.97" cy="1091.47" rx="3.36" ry="11.50" transform="rotate(-26.2 1289.97 1091.47)"/>
<ellipse cx="1293.32" cy="1089.82" rx="3.36" ry="11.50" transform="rotate(-26.2 1293.32 1089.82)"/>
<path d="M1243.07,1127.32 L1300.07,1099.32 M1232.93,1106.68 L1289.93,1078.68"/>
<ellipse cx="901.50" cy="1104.00" rx="9.00" ry="13.50" transform="rotate(35.0 901.50 1104.00)"/>
<ellipse cx="901.50" cy="1104.00" rx="6.30" ry="10.12" transform="rotate(35.0 901.50 1104.00)"/>
<ellipse cx="964.00" cy="1068.00" rx="6.50" ry="10.00" transform="rotate(-60.0 964.00 1068.00)"/>
<ellipse cx="964.00" cy="1068.00" rx="4.55" ry="7.50" transform="rotate(-60.0 964.00 1068.00)"/>
<path class="w" stroke="none" d="M911.99,1108.99 L962.99,1074.99 L951.01,1057.01 L900.01,1091.01 Z"/>
<ellipse cx="907.59" cy="1098.94" rx="3.45" ry="10.80" transform="rotate(-33.7 907.59 1098.94)"/>
<ellipse cx="910.78" cy="1096.81" rx="3.45" ry="10.80" transform="rotate(-33.7 910.78 1096.81)"/>
<ellipse cx="913.97" cy="1094.69" rx="3.45" ry="10.80" transform="rotate(-33.7 913.97 1094.69)"/>
<ellipse cx="917.16" cy="1092.56" rx="3.45" ry="10.80" transform="rotate(-33.7 917.16 1092.56)"/>
<ellipse cx="920.34" cy="1090.44" rx="3.45" ry="10.80" transform="rotate(-33.7 920.34 1090.44)"/>
<ellipse cx="923.53" cy="1088.31" rx="3.45" ry="10.80" transform="rotate(-33.7 923.53 1088.31)"/>
<ellipse cx="926.72" cy="1086.19" rx="3.45" ry="10.80" transform="rotate(-33.7 926.72 1086.19)"/>
<ellipse cx="929.91" cy="1084.06" rx="3.45" ry="10.80" transform="rotate(-33.7 929.91 1084.06)"/>
<ellipse cx="933.09" cy="1081.94" rx="3.45" ry="10.80" transform="rotate(-33.7 933.09 1081.94)"/>
<ellipse cx="936.28" cy="1079.81" rx="3.45" ry="10.80" transform="rotate(-33.7 936.28 1079.81)"/>
<ellipse cx="939.47" cy="1077.69" rx="3.45" ry="10.80" transform="rotate(-33.7 939.47 1077.69)"/>
<ellipse cx="942.66" cy="1075.56" rx="3.45" ry="10.80" transform="rotate(-33.7 942.66 1075.56)"/>
<ellipse cx="945.84" cy="1073.44" rx="3.45" ry="10.80" transform="rotate(-33.7 945.84 1073.44)"/>
<ellipse cx="949.03" cy="1071.31" rx="3.45" ry="10.80" transform="rotate(-33.7 949.03 1071.31)"/>
<ellipse cx="952.22" cy="1069.19" rx="3.45" ry="10.80" transform="rotate(-33.7 952.22 1069.19)"/>
<ellipse cx="955.41" cy="1067.06" rx="3.45" ry="10.80" transform="rotate(-33.7 955.41 1067.06)"/>
<path d="M911.99,1108.99 L962.99,1074.99 M900.01,1091.01 L951.01,1057.01"/>
</g>
<!-- 20_510.svg -->
<g class="d"><defs>
<g id="g742"><g transform="translate(550 1505) scale(0.109524)">
<path d="M560,192 Q520,150 570,95 Q640,45 720,47 Q820,55 850,120 Q860,185 790,220 Q720,252 650,248 Q615,240 630,215 L690,188 L740,182 L790,175 Q810,150 780,130 L730,125 L700,100 L640,95 Q615,105 625,130 L630,160 L585,190 Z"/>
<path d="M650,100 L680,80 L720,80 L740,95 M640,140 L700,135 L720,120 M650,200 L700,175 M760,110 L800,130"/>
</g></g>
<g id="g937"><g transform="translate(550 1505) scale(0.109524)">
<path class="w" d="M515,700 L515,1000 Q540,1100 690,1125 Q800,1110 825,1080 L835,1000 L875,990 L875,860 L840,850 L840,790 L875,780 L875,700 Z"/>
<path d="M525,730 Q600,850 830,860 M520,850 Q600,990 830,1000 M540,960 Q620,1070 810,1080 M560,740 Q640,790 840,790 M530,880 Q560,900 540,1000 M560,1040 L560,1080"/>
<path class="w" d="M505,595 L505,680 Q600,722 700,722 Q800,722 900,680 L900,595 Z"/>
<ellipse class="w" cx="700" cy="595" rx="197" ry="110"/>
<ellipse cx="700" cy="595" rx="95" ry="55"/>
</g></g>
<g id="g783"><path class="w" d="M678.43,1686.01 L677.59,1690.08 L686.64,1693.17 L684.87,1696.51 L674.34,1696.24 L671.10,1699.90 L677.74,1704.57 L674.09,1707.36 L664.35,1705.05 L659.11,1707.86 L662.55,1713.54 L657.45,1715.45 L649.67,1711.38 L643.07,1713.00 L642.89,1719.01 L636.95,1719.81 L632.08,1714.48 L624.91,1714.71 L621.13,1720.32 L615.07,1719.91 L613.70,1713.95 L606.82,1712.77 L599.90,1717.31 L594.45,1715.74 L596.74,1709.87 L590.98,1707.42 L581.76,1710.34 L577.57,1707.81 L583.25,1702.74 L579.31,1699.31 L568.89,1700.26 L566.48,1697.06 L574.85,1693.40 L573.21,1689.41 L562.85,1688.27 L562.50,1684.79 L572.57,1682.99 L573.41,1678.92 L564.36,1675.83 L566.13,1672.49 L576.66,1672.76 L579.90,1669.10 L573.26,1664.43 L576.91,1661.64 L586.65,1663.95 L591.89,1661.14 L588.45,1655.46 L593.55,1653.55 L601.33,1657.62 L607.93,1656.00 L608.11,1649.99 L614.05,1649.19 L618.92,1654.52 L626.09,1654.29 L629.87,1648.68 L635.93,1649.09 L637.30,1655.05 L644.18,1656.23 L651.10,1651.69 L656.55,1653.26 L654.26,1659.13 L660.02,1661.58 L669.24,1658.66 L673.43,1661.19 L667.75,1666.26 L671.69,1669.69 L682.11,1668.74 L684.52,1671.94 L676.15,1675.60 L677.79,1679.59 L688.15,1680.73 L688.50,1684.21 Z"/>
<path d="M678.43,1677.51 L678.43,1686.01 M677.59,1681.58 L677.59,1690.08 M686.64,1684.67 L686.64,1693.17 M684.87,1688.01 L684.87,1696.51 M674.34,1687.74 L674.34,1696.24 M671.10,1691.40 L671.10,1699.90 M677.74,1696.07 L677.74,1704.57 M674.09,1698.86 L674.09,1707.36 M664.35,1696.55 L664.35,1705.05 M659.11,1699.36 L659.11,1707.86 M662.55,1705.04 L662.55,1713.54 M657.45,1706.95 L657.45,1715.45 M649.67,1702.88 L649.67,1711.38 M643.07,1704.50 L643.07,1713.00 M642.89,1710.51 L642.89,1719.01 M636.95,1711.31 L636.95,1719.81 M632.08,1705.98 L632.08,1714.48 M624.91,1706.21 L624.91,1714.71 M621.13,1711.82 L621.13,1720.32 M615.07,1711.41 L615.07,1719.91 M613.70,1705.45 L613.70,1713.95 M606.82,1704.27 L606.82,1712.77 M599.90,1708.81 L599.90,1717.31 M594.45,1707.24 L594.45,1715.74 M596.74,1701.37 L596.74,1709.87 M590.98,1698.92 L590.98,1707.42 M581.76,1701.84 L581.76,1710.34 M577.57,1699.31 L577.57,1707.81 M583.25,1694.24 L583.25,1702.74 M579.31,1690.81 L579.31,1699.31 M568.89,1691.76 L568.89,1700.26 M566.48,1688.56 L566.48,1697.06 M574.85,1684.90 L574.85,1693.40 M573.21,1680.91 L573.21,1689.41 M562.85,1679.77 L562.85,1688.27 M562.50,1676.29 L562.50,1684.79 M572.57,1674.49 L572.57,1682.99 M677.79,1671.09 L677.79,1679.59 M688.15,1672.23 L688.15,1680.73 M688.50,1675.71 L688.50,1684.21"/>
<path class="w" d="M678.43,1677.51 L677.59,1681.58 L686.64,1684.67 L684.87,1688.01 L674.34,1687.74 L671.10,1691.40 L677.74,1696.07 L674.09,1698.86 L664.35,1696.55 L659.11,1699.36 L662.55,1705.04 L657.45,1706.95 L649.67,1702.88 L643.07,1704.50 L642.89,1710.51 L636.95,1711.31 L632.08,1705.98 L624.91,1706.21 L621.13,1711.82 L615.07,1711.41 L613.70,1705.45 L606.82,1704.27 L599.90,1708.81 L594.45,1707.24 L596.74,1701.37 L590.98,1698.92 L581.76,1701.84 L577.57,1699.31 L583.25,1694.24 L579.31,1690.81 L568.89,1691.76 L566.48,1688.56 L574.85,1684.90 L573.21,1680.91 L562.85,1679.77 L562.50,1676.29 L572.57,1674.49 L573.41,1670.42 L564.36,1667.33 L566.13,1663.99 L576.66,1664.26 L579.90,1660.60 L573.26,1655.93 L576.91,1653.14 L586.65,1655.45 L591.89,1652.64 L588.45,1646.96 L593.55,1645.05 L601.33,1649.12 L607.93,1647.50 L608.11,1641.49 L614.05,1640.69 L618.92,1646.02 L626.09,1645.79 L629.87,1640.18 L635.93,1640.59 L637.30,1646.55 L644.18,1647.73 L651.10,1643.19 L656.55,1644.76 L654.26,1650.63 L660.02,1653.08 L669.24,1650.16 L673.43,1652.69 L667.75,1657.76 L671.69,1661.19 L682.11,1660.24 L684.52,1663.44 L676.15,1667.10 L677.79,1671.09 L688.15,1672.23 L688.50,1675.71 Z"/><path class="w" d="M594.3,1672 L594.3,1682 A31.2,18.3 0 0 0 656.7,1682 L656.7,1672 Z"/><ellipse class="w" cx="625.50" cy="1672.00" rx="31.20" ry="18.30"/><ellipse cx="625.50" cy="1671.00" rx="21.00" ry="10.00"/><path d="M612,1667 Q610,1675 617,1680 M618,1664 Q614,1672 621,1680 M622,1679 Q628,1668 640,1664 L646,1666 M620,1680 L640,1680 L645,1678"/></g>
<g id="g784"><g transform="translate(550 1730) scale(0.177143)">
<path class="w" d="M50,460 L70,560 Q40,580 40,600 Q40,625 70,630 L150,640 Q250,690 430,690 Q600,685 720,570 L830,540 Q850,520 840,495 L800,480 L770,470 L740,410 Z"/>
<path d="M100,470 L100,510 Q150,600 300,630 Q420,650 560,630 Q680,600 715,540 L715,440 M60,470 Q200,520 440,515 Q620,505 740,430 M150,645 Q300,680 430,678 Q600,670 720,585"/>
<ellipse cx="95" cy="595" rx="25" ry="12"/><ellipse cx="785" cy="508" rx="25" ry="12"/>
<path class="w" d="M40,430 Q40,400 90,398 L130,395 Q150,200 400,45 L520,40 Q620,35 660,60 L700,90 L780,300 L830,330 Q850,360 830,385 L745,400 Q700,470 440,500 Q180,490 60,450 Z"/>
<path d="M60,440 Q200,480 440,480 Q640,470 745,395 M100,420 L100,320 Q120,230 180,170 M700,200 L700,330 M650,60 L700,200"/>
<ellipse class="w" cx="425" cy="215" rx="275" ry="160"/>
<path d="M150,215 L150,300 A275,150 0 0 0 700,300 L700,215 M165,250 A260,140 0 0 0 690,250 M160,280 A265,140 0 0 0 695,280"/>
<ellipse cx="420" cy="195" rx="250" ry="140"/>
<ellipse cx="420" cy="195" rx="118" ry="68"/>
<ellipse cx="95" cy="425" rx="25" ry="12"/><ellipse cx="795" cy="345" rx="25" ry="12"/>
</g></g>
<g id="g513"><path class="w" d="M676.10,1902.50 L676.07,1903.51 L677.52,1904.23 L677.39,1905.27 L675.78,1905.86 L675.56,1906.86 L676.86,1907.67 L676.54,1908.69 L674.83,1909.17 L674.42,1910.15 L675.56,1911.04 L675.04,1912.04 L673.25,1912.40 L672.66,1913.35 L673.62,1914.31 L672.92,1915.26 L671.07,1915.50 L670.30,1916.41 L671.07,1917.43 L670.20,1918.33 L668.31,1918.45 L667.38,1919.29 L667.95,1920.36 L666.91,1921.19 L665.02,1921.19 L663.93,1921.97 L664.30,1923.06 L663.10,1923.82 L661.22,1923.69 L659.99,1924.39 L660.15,1925.51 L658.82,1926.19 L656.97,1925.93 L655.62,1926.55 L655.56,1927.67 L654.11,1928.25 L652.33,1927.88 L650.86,1928.40 L650.60,1929.51 L649.04,1929.99 L647.34,1929.50 L645.79,1929.93 L645.31,1931.01 L643.68,1931.39 L642.08,1930.79 L640.46,1931.11 L639.78,1932.15 L638.08,1932.42 L636.60,1931.72 L634.93,1931.93 L634.06,1932.92 L632.32,1933.08 L630.99,1932.28 L629.29,1932.38 L628.23,1933.31 L626.47,1933.35 L625.30,1932.47 L623.59,1932.46 L622.37,1933.31 L620.61,1933.23 L619.61,1932.28 L617.92,1932.15 L616.54,1932.92 L614.81,1932.73 L614.00,1931.72 L612.34,1931.48 L610.82,1932.15 L609.14,1931.85 L608.52,1930.79 L606.92,1930.44 L605.29,1931.01 L603.67,1930.59 L603.26,1929.50 L601.73,1929.05 L600.00,1929.51 L598.48,1928.99 L598.27,1927.88 L596.84,1927.33 L595.04,1927.67 L593.62,1927.05 L593.63,1925.93 L592.31,1925.29 L590.45,1925.51 L589.16,1924.80 L589.38,1923.69 L588.19,1922.97 L586.30,1923.06 L585.15,1922.28 L585.58,1921.19 L584.54,1920.39 L582.65,1920.36 L581.65,1919.50 L582.29,1918.45 L581.40,1917.58 L579.53,1917.43 L578.70,1916.51 L579.53,1915.50 L578.81,1914.59 L576.98,1914.31 L576.33,1913.34 L577.35,1912.40 L576.81,1911.44 L575.04,1911.04 L574.59,1910.04 L575.77,1909.17 L575.42,1908.18 L573.74,1907.67 L573.47,1906.64 L574.82,1905.86 L574.66,1904.85 L573.08,1904.23 L573.01,1903.19 L574.50,1902.50 L574.53,1901.49 L573.08,1900.77 L573.21,1899.73 L574.82,1899.14 L575.04,1898.14 L573.74,1897.33 L574.06,1896.31 L575.77,1895.83 L576.18,1894.85 L575.04,1893.96 L575.56,1892.96 L577.35,1892.60 L577.94,1891.65 L576.98,1890.69 L577.68,1889.74 L579.53,1889.50 L580.30,1888.59 L579.53,1887.57 L580.40,1886.67 L582.29,1886.55 L583.22,1885.71 L582.65,1884.64 L583.69,1883.81 L585.58,1883.81 L586.67,1883.03 L586.30,1881.94 L587.50,1881.18 L589.38,1881.31 L590.61,1880.61 L590.45,1879.49 L591.78,1878.81 L593.63,1879.07 L594.98,1878.45 L595.04,1877.33 L596.49,1876.75 L598.27,1877.12 L599.74,1876.60 L600.00,1875.49 L601.56,1875.01 L603.26,1875.50 L604.81,1875.07 L605.29,1873.99 L606.92,1873.61 L608.52,1874.21 L610.14,1873.89 L610.82,1872.85 L612.52,1872.58 L614.00,1873.28 L615.67,1873.07 L616.54,1872.08 L618.28,1871.92 L619.61,1872.72 L621.31,1872.62 L622.37,1871.69 L624.13,1871.65 L625.30,1872.53 L627.01,1872.54 L628.23,1871.69 L629.99,1871.77 L630.99,1872.72 L632.68,1872.85 L634.06,1872.08 L635.79,1872.27 L636.60,1873.28 L638.26,1873.52 L639.78,1872.85 L641.46,1873.15 L642.08,1874.21 L643.68,1874.56 L645.31,1873.99 L646.93,1874.41 L647.34,1875.50 L648.87,1875.95 L650.60,1875.49 L652.12,1876.01 L652.33,1877.12 L653.76,1877.67 L655.56,1877.33 L656.98,1877.95 L656.97,1879.07 L658.29,1879.71 L660.15,1879.49 L661.44,1880.20 L661.22,1881.31 L662.41,1882.03 L664.30,1881.94 L665.45,1882.72 L665.02,1883.81 L666.06,1884.61 L667.95,1884.64 L668.95,1885.50 L668.31,1886.55 L669.20,1887.42 L671.07,1887.57 L671.90,1888.49 L671.07,1889.50 L671.79,1890.41 L673.62,1890.69 L674.27,1891.66 L673.25,1892.60 L673.79,1893.56 L675.56,1893.96 L676.01,1894.96 L674.83,1895.83 L675.18,1896.82 L676.86,1897.33 L677.13,1898.36 L675.78,1899.14 L675.94,1900.15 L677.52,1900.77 L677.59,1901.81 Z"/>
<path d=""/>
<path class="w" d="M676.10,1893.00 L676.07,1894.01 L677.52,1894.73 L677.39,1895.77 L675.78,1896.36 L675.56,1897.36 L676.86,1898.17 L676.54,1899.19 L674.83,1899.67 L674.42,1900.65 L675.56,1901.54 L675.04,1902.54 L673.25,1902.90 L672.66,1903.85 L673.62,1904.81 L672.92,1905.76 L671.07,1906.00 L670.30,1906.91 L671.07,1907.93 L670.20,1908.83 L668.31,1908.95 L667.38,1909.79 L667.95,1910.86 L666.91,1911.69 L665.02,1911.69 L663.93,1912.47 L664.30,1913.56 L663.10,1914.32 L661.22,1914.19 L659.99,1914.89 L660.15,1916.01 L658.82,1916.69 L656.97,1916.43 L655.62,1917.05 L655.56,1918.17 L654.11,1918.75 L652.33,1918.38 L650.86,1918.90 L650.60,1920.01 L649.04,1920.49 L647.34,1920.00 L645.79,1920.43 L645.31,1921.51 L643.68,1921.89 L642.08,1921.29 L640.46,1921.61 L639.78,1922.65 L638.08,1922.92 L636.60,1922.22 L634.93,1922.43 L634.06,1923.42 L632.32,1923.58 L630.99,1922.78 L629.29,1922.88 L628.23,1923.81 L626.47,1923.85 L625.30,1922.97 L623.59,1922.96 L622.37,1923.81 L620.61,1923.73 L619.61,1922.78 L617.92,1922.65 L616.54,1923.42 L614.81,1923.23 L614.00,1922.22 L612.34,1921.98 L610.82,1922.65 L609.14,1922.35 L608.52,1921.29 L606.92,1920.94 L605.29,1921.51 L603.67,1921.09 L603.26,1920.00 L601.73,1919.55 L600.00,1920.01 L598.48,1919.49 L598.27,1918.38 L596.84,1917.83 L595.04,1918.17 L593.62,1917.55 L593.63,1916.43 L592.31,1915.79 L590.45,1916.01 L589.16,1915.30 L589.38,1914.19 L588.19,1913.47 L586.30,1913.56 L585.15,1912.78 L585.58,1911.69 L584.54,1910.89 L582.65,1910.86 L581.65,1910.00 L582.29,1908.95 L581.40,1908.08 L579.53,1907.93 L578.70,1907.01 L579.53,1906.00 L578.81,1905.09 L576.98,1904.81 L576.33,1903.84 L577.35,1902.90 L576.81,1901.94 L575.04,1901.54 L574.59,1900.54 L575.77,1899.67 L575.42,1898.68 L573.74,1898.17 L573.47,1897.14 L574.82,1896.36 L574.66,1895.35 L573.08,1894.73 L573.01,1893.69 L574.50,1893.00 L574.53,1891.99 L573.08,1891.27 L573.21,1890.23 L574.82,1889.64 L575.04,1888.64 L573.74,1887.83 L574.06,1886.81 L575.77,1886.33 L576.18,1885.35 L575.04,1884.46 L575.56,1883.46 L577.35,1883.10 L577.94,1882.15 L576.98,1881.19 L577.68,1880.24 L579.53,1880.00 L580.30,1879.09 L579.53,1878.07 L580.40,1877.17 L582.29,1877.05 L583.22,1876.21 L582.65,1875.14 L583.69,1874.31 L585.58,1874.31 L586.67,1873.53 L586.30,1872.44 L587.50,1871.68 L589.38,1871.81 L590.61,1871.11 L590.45,1869.99 L591.78,1869.31 L593.63,1869.57 L594.98,1868.95 L595.04,1867.83 L596.49,1867.25 L598.27,1867.62 L599.74,1867.10 L600.00,1865.99 L601.56,1865.51 L603.26,1866.00 L604.81,1865.57 L605.29,1864.49 L606.92,1864.11 L608.52,1864.71 L610.14,1864.39 L610.82,1863.35 L612.52,1863.08 L614.00,1863.78 L615.67,1863.57 L616.54,1862.58 L618.28,1862.42 L619.61,1863.22 L621.31,1863.12 L622.37,1862.19 L624.13,1862.15 L625.30,1863.03 L627.01,1863.04 L628.23,1862.19 L629.99,1862.27 L630.99,1863.22 L632.68,1863.35 L634.06,1862.58 L635.79,1862.77 L636.60,1863.78 L638.26,1864.02 L639.78,1863.35 L641.46,1863.65 L642.08,1864.71 L643.68,1865.06 L645.31,1864.49 L646.93,1864.91 L647.34,1866.00 L648.87,1866.45 L650.60,1865.99 L652.12,1866.51 L652.33,1867.62 L653.76,1868.17 L655.56,1867.83 L656.98,1868.45 L656.97,1869.57 L658.29,1870.21 L660.15,1869.99 L661.44,1870.70 L661.22,1871.81 L662.41,1872.53 L664.30,1872.44 L665.45,1873.22 L665.02,1874.31 L666.06,1875.11 L667.95,1875.14 L668.95,1876.00 L668.31,1877.05 L669.20,1877.92 L671.07,1878.07 L671.90,1878.99 L671.07,1880.00 L671.79,1880.91 L673.62,1881.19 L674.27,1882.16 L673.25,1883.10 L673.79,1884.06 L675.56,1884.46 L676.01,1885.46 L674.83,1886.33 L675.18,1887.32 L676.86,1887.83 L677.13,1888.86 L675.78,1889.64 L675.94,1890.65 L677.52,1891.27 L677.59,1892.31 Z"/><ellipse cx="625.30" cy="1891.00" rx="48.00" ry="27.50"/><path d="M573.5,1893 L573.5,1903 M677.1,1893 L677.1,1903 M574.5,1893 A52,31 0 0 0 676,1893" style="stroke-width:2.5"/><path class="w" d="M588,1889 L588,1897 A37,23 0 0 0 662,1897 L662,1889 Z"/><ellipse class="w" cx="625.30" cy="1889.00" rx="37.00" ry="23.00"/><path class="w" d="M598.7,1880 L598.7,1888 A26.6,17.7 0 0 0 651.9,1888 L651.9,1880 Z"/><ellipse class="w" cx="625.30" cy="1880.00" rx="26.60" ry="17.70"/><ellipse cx="625.30" cy="1882.00" rx="19.50" ry="11.50"/><ellipse cx="625.30" cy="1885.00" rx="12.00" ry="6.50"/><path d="M627,1873 L627,1880 L640,1882 M582,1891 L590,1889 M660,1889 L668,1891 M604,1906 L604,1914 L608,1914 L608,1906"/><path d="M610.0,1917.0 L610.0,1935.0 M613.2,1917.0 L613.2,1935.0 M616.4,1917.0 L616.4,1935.0 M619.6,1917.0 L619.6,1935.0 M622.8,1917.0 L622.8,1935.0 M626.0,1917.0 L626.0,1935.0 M629.2,1917.0 L629.2,1935.0 M632.4,1917.0 L632.4,1935.0 M635.6,1917.0 L635.6,1935.0 M638.8,1917.0 L638.8,1935.0"/></g>
<g id="g651"><g transform="translate(831.5 1728) scale(0.55 0.4)">
<path class="w" d="M-9,6 L-6,1 L3,0 L8,3 L9,8 L6,13 L-3,14 L-9,11 Z"/>
<path d="M-9,6 L-3,9 L5,8.5 L9,8 M-3,9 L-3,14"/>
<path class="w" d="M-5.5,15 L-5.5,50 L-3,51.5 L3,51.5 L5.5,50 L5.5,15"/>
<path d="M-11,13 Q-11,17 0,18 Q11,17 11,13 Q11,9 8,8 M-11,13 Q-11,9 -8,8"/>
<path d="M-5.5,24 L5.5,24 M-5.5,30 L5.5,30 M-5.5,36 L5.5,36 M-5.5,42 L5.5,42 M-5.5,48 L5.5,48"/>
</g></g>
<g id="g783A"><path class="w" d="M844.50,1878.00 L844.30,1878.87 L846.14,1879.60 L845.16,1880.59 L842.72,1880.46 L841.42,1881.11 L841.96,1882.19 L839.88,1882.73 L838.07,1881.98 L836.17,1882.16 L835.20,1883.17 L832.81,1883.06 L832.33,1881.98 L830.55,1881.62 L828.44,1882.19 L826.65,1881.46 L827.68,1880.46 L826.70,1879.70 L824.26,1879.60 L823.76,1878.54 L825.90,1878.00 L826.10,1877.13 L824.26,1876.40 L825.24,1875.41 L827.68,1875.54 L828.98,1874.89 L828.44,1873.81 L830.52,1873.27 L832.33,1874.02 L834.23,1873.84 L835.20,1872.83 L837.59,1872.94 L838.07,1874.02 L839.85,1874.38 L841.96,1873.81 L843.75,1874.54 L842.72,1875.54 L843.70,1876.30 L846.14,1876.40 L846.64,1877.46 Z"/>
<path d="M844.50,1856.00 L844.50,1878.00 M844.30,1856.87 L844.30,1878.87 M846.14,1857.60 L846.14,1879.60 M845.16,1858.59 L845.16,1880.59 M838.07,1859.98 L838.07,1881.98 M836.17,1860.16 L836.17,1882.16 M835.20,1861.17 L835.20,1883.17 M832.81,1861.06 L832.81,1883.06 M827.68,1858.46 L827.68,1880.46 M826.70,1857.70 L826.70,1879.70 M824.26,1857.60 L824.26,1879.60 M823.76,1856.54 L823.76,1878.54"/>
<path class="w" d="M844.50,1856.00 L844.30,1856.87 L846.14,1857.60 L845.16,1858.59 L842.72,1858.46 L841.42,1859.11 L841.96,1860.19 L839.88,1860.73 L838.07,1859.98 L836.17,1860.16 L835.20,1861.17 L832.81,1861.06 L832.33,1859.98 L830.55,1859.62 L828.44,1860.19 L826.65,1859.46 L827.68,1858.46 L826.70,1857.70 L824.26,1857.60 L823.76,1856.54 L825.90,1856.00 L826.10,1855.13 L824.26,1854.40 L825.24,1853.41 L827.68,1853.54 L828.98,1852.89 L828.44,1851.81 L830.52,1851.27 L832.33,1852.02 L834.23,1851.84 L835.20,1850.83 L837.59,1850.94 L838.07,1852.02 L839.85,1852.38 L841.96,1851.81 L843.75,1852.54 L842.72,1853.54 L843.70,1854.30 L846.14,1854.40 L846.64,1855.46 Z"/><ellipse cx="835.20" cy="1856.00" rx="5.00" ry="2.50"/></g>
</defs></g>
<g class="d">
<use href="#g742"/>
<use href="#g742" transform="translate(666 393)"/>
<use href="#g937"/>
<use href="#g937" transform="translate(666 393)"/>
<use href="#g783"/>
<use href="#g783" transform="translate(666 393)"/>
<use href="#g784"/>
<use href="#g784" transform="translate(666 393)"/>
<use href="#g513"/>
<use href="#g513" transform="translate(666 393)"/>
<use href="#g651"/>
<use href="#g651" transform="translate(666 393)"/>
<use href="#g783A"/>
<use href="#g783A" transform="translate(666 393)"/>
<use href="#g742" transform="translate(1255 638.5)"/>
<use href="#g937" transform="translate(1255 638.5)"/>
<use href="#g783" transform="translate(1255 638.5)"/>
</g>
<!-- 21_801.svg -->
<g class="d" transform="translate(510 1960) scale(0.12)">
<path class="w" d="M440,1000 L500,820 L1090,280 L1160,330 L1300,410 L1640,700 Q1700,800 1700,900 L1700,1050 Q1690,1200 1560,1280 L1450,1280 Q1300,1400 970,1425 Q700,1425 440,1330 Z"/>
<path d="M440,960 Q470,830 560,760 L720,690 L730,640 L820,600 L900,600 M1060,600 Q1150,580 1280,580 Q1330,590 1370,650 L1460,860 Q1500,930 1550,950 L1610,950 Q1630,980 1620,1040 Q1560,1110 1480,1120 Q1300,1250 980,1265 Q700,1265 520,1200 L450,1190"/>
<path d="M440,1000 L440,1330 M1640,1040 L1640,1160 M1700,900 L1700,1050"/>
<path d="M520,940 Q540,800 700,750 L900,700 M1060,640 Q1150,620 1260,640 Q1320,670 1330,760 L1420,1010 Q1420,1080 1340,1140 Q1200,1230 980,1240 Q780,1240 620,1170 Q520,1100 520,940"/>
<path d="M680,1080 Q690,960 800,935 L900,925 M1060,930 Q1180,940 1260,1000 Q1290,1050 1270,1110 Q1220,1200 980,1215 Q760,1210 700,1160 Q680,1130 680,1080"/>
<path d="M540,1030 Q560,940 700,880 L900,845 M1060,760 L1300,740 L1350,860 L1330,880 L1070,880"/>
<ellipse cx="980" cy="1075" rx="150" ry="85"/>
<ellipse cx="980" cy="1070" rx="100" ry="55"/>
<path d="M820,580 L820,600 L900,520 M1120,420 L1160,410 L1160,580 M1120,420 L1120,580 M1060,430 L1120,430 M1300,410 L1650,700"/>
<ellipse cx="815" cy="658" rx="40" ry="22"/>
<ellipse cx="530" cy="1165" rx="40" ry="22"/>
<ellipse cx="1535" cy="1015" rx="38" ry="22"/>
<ellipse cx="1195" cy="810" rx="75" ry="42"/>
<path class="w" d="M905,440 L905,1085 Q978,1120 1050,1085 L1050,440 Z"/>
<ellipse class="w" cx="978" cy="430" rx="72" ry="38"/>
<path d="M905,490 Q978,525 1050,490 M905,505 Q978,540 1050,505"/>
<path class="w" d="M1090,160 L1245,70 L1330,115 L1330,390 L1300,410 L1170,340 L1165,200 Z"/>
<path d="M1090,160 L1165,200 L1330,115 M1165,200 L1165,340 M1090,160 L1090,280 L1165,320"/>
<ellipse cx="1255" cy="250" rx="40" ry="60" transform="rotate(15 1255 250)"/>
<path class="w" d="M145,1000 L370,890 L440,900 L440,1260 L230,1345 L145,1300 Z"/>
<path d="M145,1000 L230,1050 L440,960 M230,1050 L230,1345 M270,1030 L330,1030 L400,1070 L380,1260 M270,1040 L270,1250 L320,1260"/>
<path d="M280,1180 Q300,1150 340,1150 L350,1210"/>
<path d="M285,1180 L680,1415" style="stroke-width:4"/>
</g>

<!-- 22_544.svg -->
<g class="d" transform="translate(560 2140) scale(0.1)">
<path class="w" d="M205,640 Q230,520 330,470 L480,420 Q700,380 920,420 L1070,470 Q1170,520 1195,640 L1195,1250 Q1190,1380 1090,1430 L960,1470 Q800,1510 700,1510 Q600,1510 430,1470 L320,1440 Q220,1400 205,1250 Z"/>
<path d="M290,800 L290,1430 M330,800 L330,1430"/>
<path d="M510,800 L510,1430 M590,800 L590,1430"/>
<path d="M820,800 L820,1430 M890,800 L890,1430"/>
<path d="M1080,800 L1080,1430 M1110,800 L1110,1430"/>
<path d="M590,920 L825,920 L825,1500 L590,1500 Z M520,910 L520,1440 M880,900 L880,1440"/>
<path d="M205,1000 L205,1250 Q230,1380 300,1380 M1195,640 L1195,1250 Q1180,1360 1100,1380"/>
<path d="M215,1020 L290,1050 M215,1048 L290,1078 M215,1076 L290,1106 M215,1104 L290,1134 M215,1132 L290,1162 M215,1160 L290,1190 M215,1188 L290,1218 M215,1216 L290,1246 M215,1244 L290,1274 M215,1272 L290,1302 M215,1300 L290,1330 M215,1328 L290,1358 M215,1356 L290,1386 M215,1384 L290,1414 M215,1412 L290,1442 M215,1440 L290,1470 M335,1170 L500,1260 M335,1192 L500,1282 M335,1214 L500,1304 M335,1236 L500,1326 M335,1258 L500,1348 M335,1280 L500,1370 M335,1302 L500,1392 M335,1324 L500,1414 M335,1346 L500,1436 M335,1368 L500,1458 M335,1390 L500,1480 M335,1412 L500,1502 M335,1434 L500,1524 M335,1456 L500,1546 M895,1260 L1075,1200 M895,1282 L1075,1222 M895,1304 L1075,1244 M895,1326 L1075,1266 M895,1348 L1075,1288 M895,1370 L1075,1310 M895,1392 L1075,1332 M895,1414 L1075,1354 M895,1436 L1075,1376 M895,1458 L1075,1398 M895,1480 L1075,1420 M895,1502 L1075,1442 M895,1524 L1075,1464"/>
<path d="M741,609 L847,698 M300,456 L232,603 M456,878 L542,900 M678,725 L608,761 M1039,675 L971,809 M299,776 L226,886 M269,822 L342,900 M1049,757 L929,889 M977,641 L1039,804 M330,508 L246,539 M641,719 L540,729 M595,601 L592,729 M1072,743 L1022,900 M1152,739 L1077,771 M1127,839 L1001,892 M434,808 L347,900 M298,817 L423,900 M977,626 L1055,647 M947,825 L987,873 M281,759 L244,849 M1142,667 L956,733 M311,708 L347,756 M615,713 L682,755 M1038,585 L1180,608 M588,648 L462,686 M788,690 L724,809 M706,635 L548,662 M517,870 L615,900 M251,629 L229,754 M807,722 L875,726 M669,742 L626,833 M919,460 L878,509 M1126,558 L1061,653 M534,607 L505,696 M788,579 L833,672 M265,695 L220,791 M445,796 L497,865 M640,750 L702,787 M547,808 L611,900 M396,595 L260,654 M655,547 L583,571 M416,797 L399,900 M496,797 L622,871 M558,506 L475,558 M489,599 L395,663 M617,846 L637,900 M1108,828 L1180,831 M1114,849 L1133,900 M1010,735 L917,821 M554,548 L597,597 M504,798 L486,856 M878,847 L701,897 M771,456 L615,502 M516,735 L630,797 M1104,713 L1133,807 M1033,655 L1152,764 M422,680 L500,820 M968,846 L1117,900 M247,720 L220,806 M490,565 L622,584 M675,784 L690,837 M357,504 L425,514 M1026,487 L896,496 M529,601 L612,715 M572,532 L543,624 M751,758 L856,797 M404,611 L544,643 M590,794 L476,878 M583,663 L616,803 M879,648 L902,730 M880,481 L866,588 M1049,853 L1075,900 M968,563 L849,598 M988,735 L1159,797 M854,766 L744,841 M781,452 L857,475 M281,489 L225,533 M405,460 L239,519 M1016,740 L1180,799 M773,793 L708,802 M710,758 L655,803 M1100,476 L1026,544 M1002,554 L985,629 M807,774 L888,847 M605,601 L653,698 M700,868 L814,896 M388,747 L271,853 M716,658 L638,773 M377,491 L221,538 M716,641 L561,678"/>
<path d="M230,560 Q300,480 420,460 L530,430 M1180,560 Q1100,480 980,460 L880,420 M240,760 Q300,820 360,840 M1160,760 Q1100,820 1040,840 M330,820 Q500,900 700,910 Q900,900 1060,820"/>
<path style="stroke-width:2.5" d="M330,600 Q400,520 520,500 M1080,600 Q1000,520 880,500 M300,700 L380,880 M1100,700 L1020,880 M360,560 L470,880 M480,500 L580,880 M900,470 L800,880 M1010,520 L880,880 M640,560 L760,880 M420,680 L1000,660 M680,580 L860,590"/>
<path d="M320,470 L390,400 L440,385 L520,400 L520,460 M880,400 L960,385 L1000,410 L1080,470 M230,520 L300,510 M1110,520 L1180,560"/>
<path class="w" d="M575,380 L575,470 Q700,530 825,470 L825,380 Z"/>
<ellipse class="w" cx="700" cy="385" rx="125" ry="55"/>
<path class="w" d="M615,210 L615,380 Q700,420 785,380 L785,210 Z"/>
<ellipse class="w" cx="700" cy="215" rx="85" ry="35"/>
<path class="w" d="M642,80 L642,230 Q700,260 758,230 L758,80 Z"/>
<ellipse class="w" cx="700" cy="80" rx="58" ry="30"/>
<path class="w" d="M420,1490 L420,1800 Q500,1900 700,1905 Q880,1900 960,1800 L960,1490 Q850,1540 700,1545 Q540,1540 420,1490 Z"/>
<path d="M460,1520 L460,1880 M520,1520 L520,1880 M560,1520 L560,1880 M600,1520 L600,1880 M650,1520 L650,1880 M690,1520 L690,1880 M740,1520 L740,1880 M800,1520 L800,1880 M850,1520 L850,1880 M900,1520 L900,1880 M940,1520 L940,1880"/>
<path d="M420,1560 Q700,1620 960,1560 M430,1640 Q700,1700 960,1640 M600,1700 L600,1880 L740,1880 L740,1700 Z"/>
<path d="M460,1640 L590,1680 M760,1680 L930,1640 M460,1665 L590,1705 M760,1705 L930,1665 M460,1690 L590,1730 M760,1730 L930,1690 M460,1715 L590,1755 M760,1755 L930,1715 M460,1740 L590,1780 M760,1780 L930,1740 M460,1765 L590,1805 M760,1805 L930,1765 M460,1790 L590,1830 M760,1830 L930,1790 M460,1815 L590,1855 M760,1855 L930,1815"/>
<path style="stroke-width:3" d="M450,1510 L950,1510 M470,1540 L930,1540"/>
<path class="w" d="M625,1880 L625,2020 Q700,2080 780,2020 L780,1880 Z"/>
</g>
<!-- 23_803.svg -->
<g class="d" transform="translate(560 2340) scale(0.182857)">
<!-- 803 housing -->
<path class="w" d="M23,300 L23,740 A370,210 0 0 0 763,740 L763,300 Z"/>
<ellipse class="w" cx="393" cy="300" rx="370" ry="215"/>
<ellipse cx="393" cy="310" rx="330" ry="180"/>
<path d="M145,330 Q150,230 280,205 Q400,190 500,200 L575,180 L575,450 M500,200 L500,460 M535,195 L535,455 M170,400 L170,440 M145,330 Q150,390 175,410 M615,260 Q640,230 680,240 Q720,290 640,330 L620,390"/>
<path d="M63,320 Q100,460 393,485 Q650,470 720,330"/>
<!-- 310 through bolt -->
<path class="w" d="M1585,380 L1585,1110 L1650,1110 L1650,380 Z"/>
<path class="w" d="M1578,190 Q1580,170 1615,170 Q1650,170 1655,190 L1655,385 L1578,385 Z"/>
<path d="M1578,210 Q1615,225 1655,210 M1578,235 Q1615,250 1655,235 M1578,260 Q1615,275 1655,260 M1578,285 Q1615,300 1655,285 M1578,310 Q1615,325 1655,310 M1578,335 Q1615,350 1655,335 M1578,360 Q1615,375 1655,360"/>
<ellipse class="w" cx="1615" cy="1095" rx="78" ry="40"/>
<path class="w" d="M1555,1100 L1565,1150 L1610,1172 L1665,1160 L1685,1110 Z"/>
<path class="w" d="M1590,1095 L1590,1110 Q1617,1122 1645,1110 L1645,1095 Z" stroke="none"/>
<path d="M1590,1060 L1590,1110 Q1617,1122 1645,1110 L1645,1060 M1610,1140 L1610,1172 M1660,1125 L1665,1160"/>
</g>
<g class="d" transform="translate(360 2500) scale(0.217143)">
<!-- 802 brush end -->
<path class="w" d="M948,270 L950,420 Q1000,520 1250,540 Q1420,530 1520,440 L1560,420 L1562,265 Z"/>
<ellipse class="w" cx="1255" cy="265" rx="310" ry="165"/>
<ellipse cx="1255" cy="258" rx="285" ry="145"/>
<ellipse cx="1258" cy="250" rx="260" ry="125"/>
<path d="M1340,390 L1340,510 M1350,395 L1350,505 M1060,490 L1055,500 M1160,520 L1165,540"/>
<path d="M1000,230 L1050,190 L1095,195 L1100,225 L1160,230 L1175,290 L1130,300 L1050,310 L1040,250 Z M1180,240 Q1260,225 1300,225 M1280,230 L1300,260 Q1330,290 1380,270 L1400,280 L1400,330 L1480,300 L1500,260"/>
<path d="M1330,120 L1330,240 L1420,240 L1420,150 M1440,150 L1440,250"/>
<ellipse cx="1375" cy="130" rx="22" ry="13"/>
<ellipse cx="1133" cy="345" rx="22" ry="13"/>
<path d="M1180,320 Q1250,350 1380,340"/>
<path style="stroke-width:3.5" d="M1085,240 Q1050,260 1065,300 Q1090,320 1120,310 M1470,255 Q1500,280 1460,310 Q1420,330 1410,320"/>
<path class="w" d="M1405,440 L1420,432 L1640,530 Q1660,560 1640,600 L1610,610 L1405,505 Z"/>
<path d="M1490,470 L1500,560 M1505,480 L1515,565 M1525,490 L1535,570 M1545,500 L1550,580 M1410,480 L1600,570"/>
<ellipse cx="1630" cy="560" rx="18" ry="28"/>
<path d="M1450,510 Q1470,580 1475,650 M1465,520 Q1485,590 1485,650"/>
<circle cx="1478" cy="655" r="10"/>
</g>
<defs><g id="g853" class="d"><g transform="translate(360 2500) scale(0.217143)">
<path class="w" d="M95,265 L150,235 L215,270 L280,330 L280,400 L235,415 L95,345 Z"/>
<path d="M95,265 L160,300 L215,270 M160,300 L160,375 M160,300 L240,340 L280,330 M240,340 L240,415"/>
<path d="M245,360 L345,410 M250,385 L340,430"/>
<path class="w" d="M340,410 Q345,385 370,385 L490,450 Q510,480 495,510 L465,525 L350,470 Q335,445 340,410 Z"/>
<path d="M380,440 L385,500 M400,450 L405,505 M420,460 L425,515 M350,430 L470,490"/>
<ellipse cx="485" cy="485" rx="15" ry="22"/>
</g></g></defs>
<use href="#g853"/>
<use href="#g853" transform="translate(673.3 -62.3)"/>
<use href="#g853" transform="translate(1318 -172.3)"/>

<!-- 24_545.svg -->
<g class="d" transform="translate(760 2160) scale(0.0666667)">
<path class="w" d="M330,370 L335,440 A210,100 0 0 0 755,440 L760,370 Z"/>
<ellipse class="w" cx="545" cy="370" rx="215" ry="125"/>
<ellipse cx="545" cy="370" rx="125" ry="68"/>
<ellipse cx="545" cy="355" rx="115" ry="50"/>
<ellipse cx="545" cy="720" rx="245" ry="145"/>
<ellipse cx="545" cy="722" rx="125" ry="78"/>
<path class="w" d="M345,1270 L345,1390 A205,95 0 0 0 755,1390 L755,1270 Z"/>
<ellipse class="w" cx="550" cy="1270" rx="205" ry="112"/>
<ellipse cx="553" cy="1270" rx="130" ry="72"/>
<path d="M470,1325 Q550,1280 640,1320"/>
<ellipse cx="545" cy="1720" rx="245" ry="140" transform="rotate(-3 545 1720)"/>
<ellipse cx="545" cy="1740" rx="125" ry="72"/>
<path d="M370,1640 L610,1640 L780,1740 M670,1590 L780,1700"/>
</g>

<!-- 25_motor.svg -->
<g class="d"><defs><g id="gmotor"><g transform="translate(1160 2370) scale(0.137143)">
<!-- body -->
<path class="w" d="M745,1110 L770,1750 Q900,1880 1200,1880 Q1450,1860 1580,1690 L1605,920 Z"/>
<path d="M830,1780 Q1000,1870 1200,1870 M1450,1730 L1560,1650 L1560,1740 L1450,1815 Z M1470,1740 L1545,1690"/>
<!-- end cap -->
<path class="w" d="M175,740 L420,670 Q560,580 760,520 L790,480 L800,430 L855,420 L855,500 L1010,490 L1030,360 L1100,330 L1130,340 L1130,200 Q1150,160 1240,140 L1330,180 L1340,420 Q1560,540 1630,650 Q1650,750 1600,900 Q1540,960 1400,1000 L1300,1050 Q1150,1110 950,1115 Q750,1110 560,1050 L420,1050 L280,1080 L195,1030 Z"/>
<path d="M565,885 L570,1055 M1400,830 L1400,985 M565,885 Q800,950 1050,935 Q1250,910 1400,830"/>
<path d="M420,670 Q400,760 410,780 M350,840 L350,1020 M290,840 Q320,790 370,800 M310,980 Q300,940 340,930"/>
<path d="M490,800 Q460,700 520,640 Q600,590 700,570 M1380,740 Q1350,820 1250,850 M520,820 Q600,870 700,880 L760,890"/>
<ellipse cx="440" cy="840" rx="35" ry="18"/>
<ellipse cx="1475" cy="765" rx="35" ry="18"/>
<path d="M410,875 L500,870 M1445,800 L1530,795 M930,940 L1090,930 M1250,890 L1330,870"/>
<path d="M645,870 L640,810 L700,740 Q760,700 840,720 M1020,700 Q1150,720 1200,780 L1230,830 M1170,850 Q1200,830 1260,840"/>
<ellipse cx="760" cy="740" rx="60" ry="28"/>
<path d="M660,860 L740,880 Q760,895 740,905 L660,880"/>
<path d="M1340,420 Q1300,420 1290,380 Q1290,350 1310,345 M1130,340 L1180,320 L1300,490 L1360,520 L1470,720 M1420,600 Q1480,590 1530,620 L1540,720"/>
<ellipse cx="1270" cy="262" rx="35" ry="45" transform="rotate(15 1270 262)"/>
<path d="M1030,360 L1030,480 L1050,480 L1050,360 M1110,420 L1110,480 M1140,420 Q1130,400 1150,395 M1200,450 L1240,445"/>
<path class="w" d="M775,430 L800,420 L855,420 L855,500 L780,500 Z"/>
<path d="M790,440 L845,440 M790,460 L845,460 M790,480 L845,480"/>
<!-- stud -->
<path d="M1080,640 Q1120,620 1180,600 L1240,610 L1250,650 Q1200,680 1130,670 Z M1050,620 Q1070,600 1120,600 M1260,620 Q1310,640 1310,690"/>
<path class="w" d="M1150,510 Q1150,495 1180,495 Q1210,495 1210,510 L1210,590 L1230,600 L1230,650 L1140,650 L1140,600 L1150,590 Z"/>
<!-- shaft -->
<ellipse class="w" cx="935" cy="810" rx="145" ry="75"/>
<ellipse cx="935" cy="805" rx="95" ry="48"/>
<path class="w" d="M855,95 L855,820 Q930,850 1010,820 L1010,95 Z"/>
<ellipse class="w" cx="932" cy="95" rx="77" ry="25"/>
<path d="M855,160 Q932,185 1010,160 M855,172 Q932,197 1010,172"/>
<!-- connector -->
<path d="M440,1660 L720,1595 M450,1770 L760,1700 M450,1700 L750,1640 M460,1730 L750,1670"/>
<path class="w" d="M720,1540 Q750,1500 780,1520 Q820,1580 825,1700 Q820,1790 790,1780 Q760,1760 740,1700 Q720,1600 720,1540 Z"/>
<path d="M745,1530 Q790,1560 800,1700 L790,1780"/>
<path class="w" d="M25,1690 L420,1600 Q440,1610 445,1640 L450,1780 L60,1860 Q40,1850 30,1780 Z"/>
<path d="M50,1690 Q70,1760 60,1860 M270,1720 L275,1800 L295,1800 L290,1720 Z M330,1710 L335,1790 L355,1790 L350,1710 Z M385,1700 L390,1780 L410,1780 L405,1700 Z M110,1800 L210,1780 L215,1840 M110,1800 L115,1850"/>
</g></g></defs>
<use href="#gmotor"/>
<use href="#gmotor" transform="translate(596 12)"/>
</g>

<g transform="translate(315.8 190.0) scale(1.053 1)"><text class="t" x="0.00 17.24 34.48" y="0">356</text></g>
<g transform="translate(294.0 296.5) scale(1.049 1)"><text class="t" transform="translate(51.73 0) scale(1 1.09)">A</text><text class="t" x="0.00 17.24 34.48" y="0">356</text></g>
<g transform="translate(291.8 431.5) scale(1.069 1)"><text class="t" transform="translate(51.73 0) scale(1 1.09)">C</text><text class="t" x="0.00 17.24 34.48" y="0">356</text></g>
<g transform="translate(351.8 570.0) scale(1.039 1)"><text class="t" x="0.00 17.24 34.48" y="0">578</text></g>
<g transform="translate(327.8 827.2) scale(1.047 1)"><text class="t" x="0.00 17.24 34.48" y="0">789</text></g>
<g transform="translate(574.3 827.2) scale(1.025 1)"><text class="t" transform="translate(51.73 0) scale(1 1.09)">A</text><text class="t" x="0.00 17.24 34.48" y="0">789</text></g>
<g transform="translate(899.6 293.5) scale(1.048 1)"><text class="t" x="0.00 17.24 34.48" y="0">334</text></g>
<g transform="translate(1017.0 185.5) scale(1.047 1)"><text class="t" x="0.00 17.24 34.48" y="0">333</text></g>
<g transform="translate(1019.4 325.8) scale(1.120 1)"><path class="one" transform="translate(34.48 0)" d="M7.5,0 L10.6,0 L10.6,-22.2 L8.3,-22.2 Q7.2,-19.4 3.1,-17.6 L3.1,-15.4 Q6,-16.1 7.5,-17.4 Z"/><text class="t" x="0.00 17.24" y="0">85</text></g>
<g transform="translate(1551.8 192.8) scale(1.043 1)"><text class="t" x="0.00 17.24 34.48" y="0">892</text></g>
<g transform="translate(1682.9 237.8) scale(1.063 1)"><text class="t" x="0.00 17.24 34.48" y="0">664</text></g>
<g transform="translate(1554.9 361.7) scale(1.059 1)"><text class="t" x="0.00 17.24 34.48" y="0">990</text></g>
<g transform="translate(1723.9 194.2) scale(1.037 1)"><text class="t" x="0.00 17.24 34.48" y="0">500</text></g>
<g transform="translate(1110.6 522.4) scale(1.042 1)"><path class="one" transform="translate(0.00 0)" d="M7.5,0 L10.6,0 L10.6,-22.2 L8.3,-22.2 Q7.2,-19.4 3.1,-17.6 L3.1,-15.4 Q6,-16.1 7.5,-17.4 Z"/><path class="one" transform="translate(15.50 0)" d="M7.5,0 L10.6,0 L10.6,-22.2 L8.3,-22.2 Q7.2,-19.4 3.1,-17.6 L3.1,-15.4 Q6,-16.1 7.5,-17.4 Z"/><path class="one" transform="translate(31.00 0)" d="M7.5,0 L10.6,0 L10.6,-22.2 L8.3,-22.2 Q7.2,-19.4 3.1,-17.6 L3.1,-15.4 Q6,-16.1 7.5,-17.4 Z"/><text class="t" x="46.50" y="0">9</text></g>
<g transform="translate(1124.6 617.8) scale(1.002 1)"><text class="t" x="0.00 17.24 34.48" y="0">474</text></g>
<g transform="translate(1135.7 806.2) scale(1.081 1)"><path class="one" transform="translate(17.24 0)" d="M7.5,0 L10.6,0 L10.6,-22.2 L8.3,-22.2 Q7.2,-19.4 3.1,-17.6 L3.1,-15.4 Q6,-16.1 7.5,-17.4 Z"/><text class="t" x="0.00 32.74" y="0">90</text></g>
<g transform="translate(1776.6 554.1) scale(1.043 1)"><text class="t" x="0.00 17.24 34.48" y="0">507</text></g>
<g transform="translate(1723.9 605.6) scale(1.037 1)"><text class="t" x="0.00 17.24 34.48" y="0">520</text></g>
<g transform="translate(1648.1 653.7) scale(1.041 1)"><text class="t" x="0.00 17.24 34.48" y="0">359</text></g>
<g transform="translate(1576.1 698.7) scale(1.039 1)"><text class="t" x="0.00 17.24 34.48" y="0">373</text></g>
<g transform="translate(307.4 1060.0) scale(1.086 1)"><text class="t" x="0.00 17.24 34.48" y="0">935</text></g>
<g transform="translate(308.0 1273.8) scale(1.069 1)"><path class="one" transform="translate(0.00 0)" d="M7.5,0 L10.6,0 L10.6,-22.2 L8.3,-22.2 Q7.2,-19.4 3.1,-17.6 L3.1,-15.4 Q6,-16.1 7.5,-17.4 Z"/><path class="one" transform="translate(15.50 0)" d="M7.5,0 L10.6,0 L10.6,-22.2 L8.3,-22.2 Q7.2,-19.4 3.1,-17.6 L3.1,-15.4 Q6,-16.1 7.5,-17.4 Z"/><text class="t" x="31.00 48.24" y="0">60</text></g>
<g transform="translate(629.6 1015.2) scale(1.088 1)"><text class="t" x="0.00 17.24 34.48" y="0">236</text></g>
<g transform="translate(886.5 1006.5) scale(1.069 1)"><text class="t" x="0.00 17.24 34.48" y="0">745</text></g>
<g transform="translate(677.7 1084.2) scale(1.086 1)"><text class="t" x="0.00 17.24 34.48" y="0">923</text></g>
<g transform="translate(834.0 1094.5) scale(1.072 1)"><text class="t" x="0.00 17.24 34.48" y="0">922</text></g>
<g transform="translate(682.1 1174.5) scale(1.120 1)"><path class="one" transform="translate(34.48 0)" d="M7.5,0 L10.6,0 L10.6,-22.2 L8.3,-22.2 Q7.2,-19.4 3.1,-17.6 L3.1,-15.4 Q6,-16.1 7.5,-17.4 Z"/><text class="t" x="0.00 17.24" y="0">62</text></g>
<g transform="translate(1144.4 1116.2) scale(1.040 1)"><text class="t" transform="translate(51.73 0) scale(1 1.09)">A</text><text class="t" x="0.00 17.24 34.48" y="0">922</text></g>
<g transform="translate(1110.5 1238.5) scale(1.047 1)"><text class="t" transform="translate(51.73 0) scale(1 1.09)">A</text><text class="t" x="0.00 17.24 34.48" y="0">923</text></g>
<g transform="translate(1592.9 1080.8) scale(1.071 1)"><text class="t" transform="translate(51.73 0) scale(1 1.09)">B</text><text class="t" x="0.00 17.24 34.48" y="0">923</text></g>
<g transform="translate(1727.4 1112.2) scale(1.114 1)"><path class="one" transform="translate(34.48 0)" d="M7.5,0 L10.6,0 L10.6,-22.2 L8.3,-22.2 Q7.2,-19.4 3.1,-17.6 L3.1,-15.4 Q6,-16.1 7.5,-17.4 Z"/><text class="t" x="0.00 17.24" y="0">62</text></g>
<g transform="translate(1873.2 1126.7) scale(1.047 1)"><text class="t" transform="translate(51.73 0) scale(1 1.09)">A</text><text class="t" x="0.00 17.24 34.48" y="0">922</text></g>
<g transform="translate(312.9 1515.2) scale(1.053 1)"><text class="t" x="0.00 17.24 34.48" y="0">309</text></g>
<g transform="translate(447.5 1532.8) scale(1.091 1)"><path class="one" transform="translate(17.24 0)" d="M7.5,0 L10.6,0 L10.6,-22.2 L8.3,-22.2 Q7.2,-19.4 3.1,-17.6 L3.1,-15.4 Q6,-16.1 7.5,-17.4 Z"/><text class="t" x="0.00 32.74" y="0">50</text></g>
<g transform="translate(539.9 1538.9) scale(1.029 1)"><text class="t" x="0.00 17.24 34.48" y="0">742</text></g>
<g transform="translate(527.7 1610.1) scale(1.033 1)"><text class="t" x="0.00 17.24 34.48" y="0">937</text></g>
<g transform="translate(491.5 1694.9) scale(1.065 1)"><text class="t" x="0.00 17.24 34.48" y="0">783</text></g>
<g transform="translate(499.4 1771.2) scale(1.037 1)"><text class="t" x="0.00 17.24 34.48" y="0">784</text></g>
<g transform="translate(759.1 1755.2) scale(1.120 1)"><path class="one" transform="translate(34.48 0)" d="M7.5,0 L10.6,0 L10.6,-22.2 L8.3,-22.2 Q7.2,-19.4 3.1,-17.6 L3.1,-15.4 Q6,-16.1 7.5,-17.4 Z"/><text class="t" x="0.00 17.24" y="0">65</text></g>
<g transform="translate(487.4 1842.7) scale(1.045 1)"><text class="t" x="0.00 17.24 34.48" y="0">785</text></g>
<g transform="translate(729.9 1890.7) scale(1.026 1)"><text class="t" transform="translate(51.73 0) scale(1 1.09)">A</text><text class="t" x="0.00 17.24 34.48" y="0">783</text></g>
<g transform="translate(503.8 1918.5) scale(1.077 1)"><path class="one" transform="translate(17.24 0)" d="M7.5,0 L10.6,0 L10.6,-22.2 L8.3,-22.2 Q7.2,-19.4 3.1,-17.6 L3.1,-15.4 Q6,-16.1 7.5,-17.4 Z"/><text class="t" x="0.00 32.74" y="0">53</text></g>
<g transform="translate(448.2 2102.5) scale(1.102 1)"><path class="one" transform="translate(34.48 0)" d="M7.5,0 L10.6,0 L10.6,-22.2 L8.3,-22.2 Q7.2,-19.4 3.1,-17.6 L3.1,-15.4 Q6,-16.1 7.5,-17.4 Z"/><text class="t" x="0.00 17.24" y="0">80</text></g>
<g transform="translate(771.5 2148.9) scale(1.055 1)"><text class="t" x="0.00 17.24 34.48" y="0">545</text></g>
<g transform="translate(496.3 2247.5) scale(1.032 1)"><text class="t" x="0.00 17.24 34.48" y="0">544</text></g>
<g transform="translate(496.3 2458.8) scale(1.041 1)"><text class="t" x="0.00 17.24 34.48" y="0">803</text></g>
<g transform="translate(763.8 2486.7) scale(1.087 1)"><path class="one" transform="translate(17.24 0)" d="M7.5,0 L10.6,0 L10.6,-22.2 L8.3,-22.2 Q7.2,-19.4 3.1,-17.6 L3.1,-15.4 Q6,-16.1 7.5,-17.4 Z"/><text class="t" x="0.00 32.74" y="0">30</text></g>
<g transform="translate(484.3 2591.1) scale(1.023 1)"><text class="t" x="0.00 17.24 34.48" y="0">802</text></g>
<g transform="translate(320.4 2601.8) scale(1.027 1)"><text class="t" x="0.00 17.24 34.48" y="0">853</text></g>
<g transform="translate(976.2 1909.2) scale(1.043 1)"><text class="t" transform="translate(51.73 0) scale(1 1.09)">A</text><text class="t" x="0.00 17.24 34.48" y="0">309</text></g>
<g transform="translate(1114.4 1925.5) scale(1.114 1)"><path class="one" transform="translate(17.24 0)" d="M7.5,0 L10.6,0 L10.6,-22.2 L8.3,-22.2 Q7.2,-19.4 3.1,-17.6 L3.1,-15.4 Q6,-16.1 7.5,-17.4 Z"/><text class="t" x="0.00 32.74" y="0">50</text></g>
<g transform="translate(1205.7 1932.2) scale(1.047 1)"><text class="t" x="0.00 17.24 34.48" y="0">742</text></g>
<g transform="translate(1193.3 2003.8) scale(1.051 1)"><text class="t" x="0.00 17.24 34.48" y="0">937</text></g>
<g transform="translate(1156.9 2087.5) scale(1.063 1)"><text class="t" x="0.00 17.24 34.48" y="0">783</text></g>
<g transform="translate(1165.3 2163.8) scale(1.041 1)"><text class="t" x="0.00 17.24 34.48" y="0">784</text></g>
<g transform="translate(1425.2 2147.8) scale(1.112 1)"><path class="one" transform="translate(34.48 0)" d="M7.5,0 L10.6,0 L10.6,-22.2 L8.3,-22.2 Q7.2,-19.4 3.1,-17.6 L3.1,-15.4 Q6,-16.1 7.5,-17.4 Z"/><text class="t" x="0.00 17.24" y="0">65</text></g>
<g transform="translate(1153.5 2235.8) scale(1.061 1)"><text class="t" x="0.00 17.24 34.48" y="0">785</text></g>
<g transform="translate(1170.1 2312.1) scale(1.081 1)"><path class="one" transform="translate(17.24 0)" d="M7.5,0 L10.6,0 L10.6,-22.2 L8.3,-22.2 Q7.2,-19.4 3.1,-17.6 L3.1,-15.4 Q6,-16.1 7.5,-17.4 Z"/><text class="t" x="0.00 32.74" y="0">53</text></g>
<g transform="translate(1395.7 2284.2) scale(1.039 1)"><text class="t" transform="translate(51.73 0) scale(1 1.09)">A</text><text class="t" x="0.00 17.24 34.48" y="0">783</text></g>
<g transform="translate(993.4 2539.5) scale(1.057 1)"><text class="t" x="0.00 17.24 34.48" y="0">853</text></g>
<g transform="translate(1650.3 2095.2) scale(1.054 1)"><text class="t" transform="translate(51.73 0) scale(1 1.09)">B</text><text class="t" x="0.00 17.24 34.48" y="0">309</text></g>
<g transform="translate(1783.2 2111.2) scale(1.047 1)"><text class="t" transform="translate(51.73 0) scale(1 1.09)">A</text><text class="t" x="0.00 17.24 34.48" y="0">937</text></g>
<g transform="translate(1794.7 2176.2) scale(1.037 1)"><text class="t" x="0.00 17.24 34.48" y="0">742</text></g>
<g transform="translate(1673.7 2454.8) scale(1.047 1)"><text class="t" x="0.00 17.24 34.48" y="0">853</text></g>
<g transform="translate(1129.4 1689.0) scale(1.062 1)"><text class="t" x="0.00 17.24 34.48" y="0">697</text></g>
</svg></body></html>
